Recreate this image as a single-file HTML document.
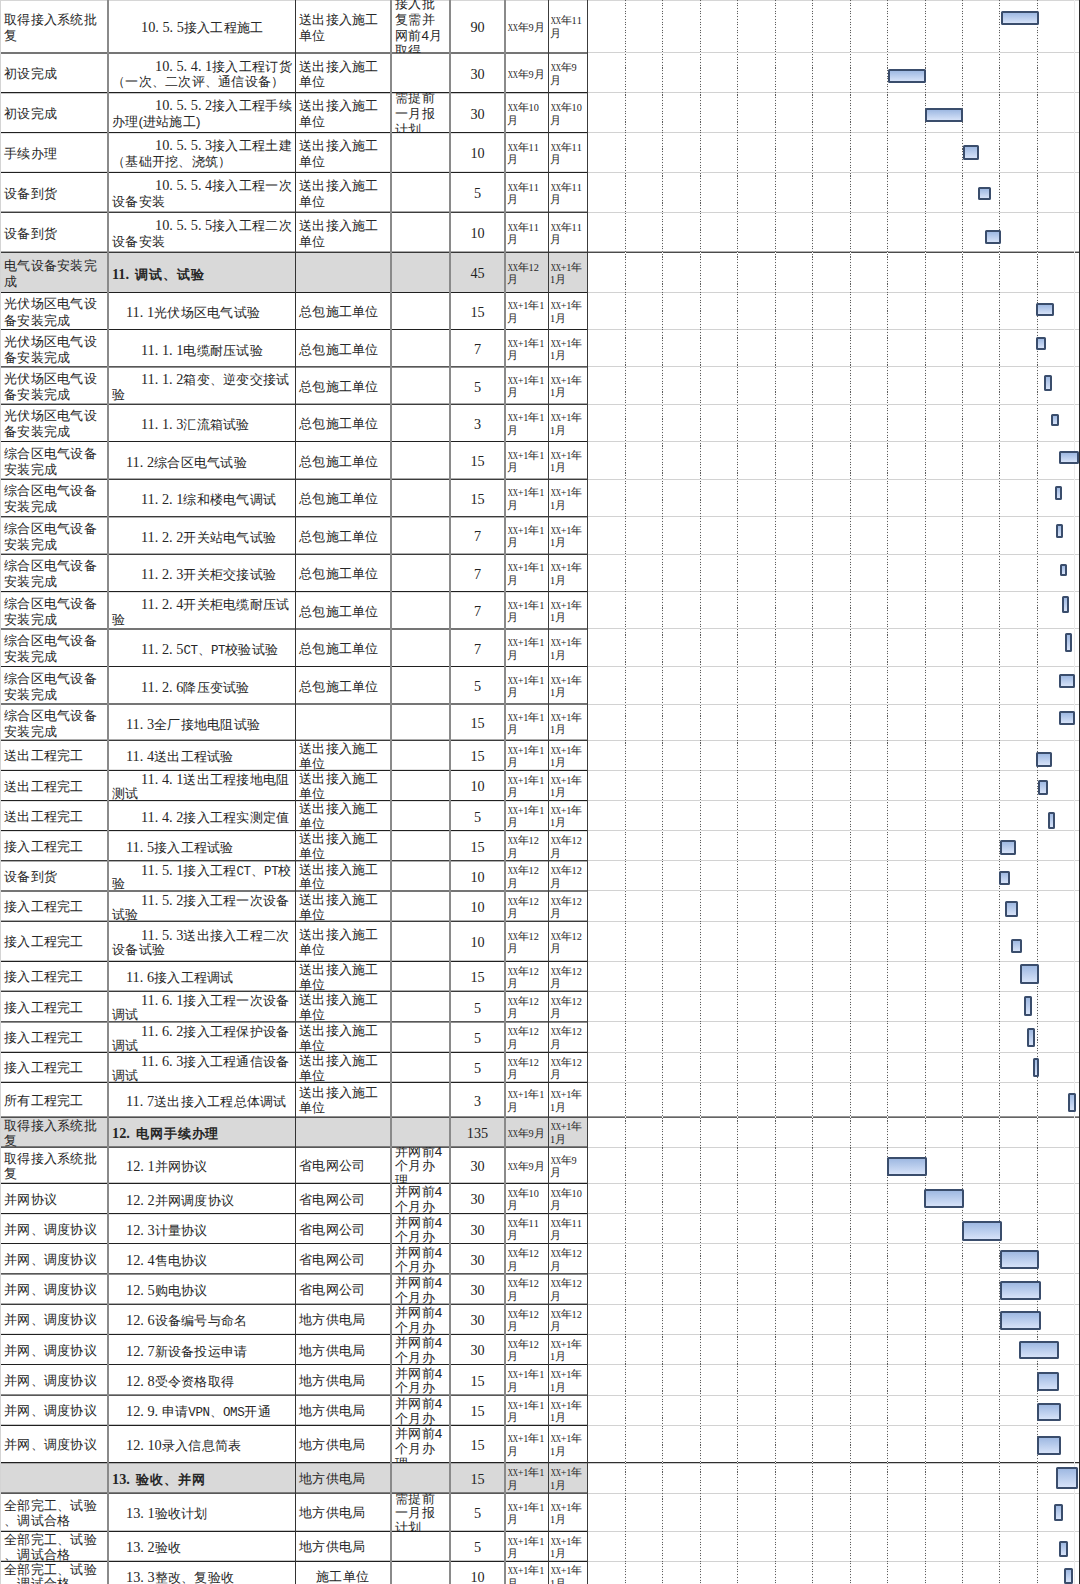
<!DOCTYPE html><html><head><meta charset="utf-8"><style>html,body{margin:0;padding:0;background:#fff;overflow:hidden}
html{width:1080px;height:1584px}
body{width:1080px;height:1584px;overflow:hidden;position:relative;font-family:"Liberation Sans",sans-serif;color:#262626}
.a{position:absolute}
.c{position:absolute;overflow:hidden}
.t{position:absolute;left:0;white-space:pre;font-size:13.4px;letter-spacing:-0.13px}
.sf{font-family:"Liberation Sans",sans-serif}
.as{font-family:"Liberation Serif",serif;font-size:14.3px;letter-spacing:0}
.lt{display:inline-block;width:7.15px;text-align:center;font-family:"Liberation Mono",monospace;font-size:12.5px}
.b{font-weight:bold;letter-spacing:0.5px}
.n{position:absolute;left:0;right:0;text-align:center;white-space:pre;font-family:"Liberation Serif",serif;font-size:14.2px;color:#222}
.d{position:absolute;left:1px;white-space:pre;font-size:10.7px;line-height:12.5px}
.h{display:inline-block;width:5.35px;text-align:center;font-style:normal;font-family:"Liberation Serif",serif;font-size:10.3px}
.hx{transform:scaleX(.7)}
.g{position:absolute;top:0;height:1584px;width:1px;background:repeating-linear-gradient(to bottom,#5e5e5e 0,#5e5e5e 1px,#f4f4f4 1px,#f4f4f4 2.7px)}
.k{display:inline-block;width:13.27px}
.kb{display:inline-block;width:13.9px}
.b .as{padding-right:2.5px}
.kd{display:inline-block;width:10.7px}
.bar{position:absolute;box-sizing:border-box;border:2.4px solid #3a4d6c;border-radius:1.5px;background:linear-gradient(to bottom,#9fb9e2,#d6e2f8)}
</style></head><body><div class="a" style="left:1px;width:587px;top:1462.7px;height:30.4px;background:#d9d9d9"></div><div class="a" style="left:1px;width:587px;top:252.2px;height:40.3px;background:#d9d9d9"></div><div class="a" style="left:1px;width:587px;top:1117.1px;height:30px;background:#d9d9d9"></div><div class="a" style="left:0;width:1080px;top:0;height:1px;background:#d6d6d6"></div><div class="a" style="left:1px;width:587px;top:52px;height:1px;background:#202020;opacity:0.62"></div><div class="a" style="left:1px;width:587px;top:53px;height:1px;background:#202020;opacity:0.62"></div><div class="a" style="left:588px;width:491px;top:52px;height:1px;background:#d2d2d2"></div><div class="a" style="left:1px;width:587px;top:92px;height:1px;background:#202020;opacity:1.00"></div><div class="a" style="left:1px;width:587px;top:93px;height:1px;background:#202020;opacity:0.25"></div><div class="a" style="left:588px;width:491px;top:92px;height:1px;background:#d2d2d2"></div><div class="a" style="left:1px;width:587px;top:132px;height:1px;background:#202020;opacity:1.00"></div><div class="a" style="left:1px;width:587px;top:133px;height:1px;background:#202020;opacity:0.12"></div><div class="a" style="left:588px;width:491px;top:132px;height:1px;background:#d2d2d2"></div><div class="a" style="left:1px;width:587px;top:171px;height:1px;background:#202020;opacity:0.12"></div><div class="a" style="left:1px;width:587px;top:172px;height:1px;background:#202020;opacity:1.00"></div><div class="a" style="left:588px;width:491px;top:172px;height:1px;background:#d2d2d2"></div><div class="a" style="left:1px;width:587px;top:211px;height:1px;background:#202020;opacity:0.38"></div><div class="a" style="left:1px;width:587px;top:212px;height:1px;background:#202020;opacity:0.87"></div><div class="a" style="left:588px;width:491px;top:212px;height:1px;background:#d2d2d2"></div><div class="a" style="left:1px;width:587px;top:251px;height:1px;background:#202020;opacity:0.38"></div><div class="a" style="left:1px;width:587px;top:252px;height:1px;background:#202020;opacity:0.87"></div><div class="a" style="left:588px;width:492px;top:251px;height:1px;background:#303030;opacity:0.38"></div><div class="a" style="left:588px;width:492px;top:252px;height:1px;background:#303030;opacity:0.87"></div><div class="a" style="left:1px;width:587px;top:292px;height:1px;background:#202020;opacity:1.00"></div><div class="a" style="left:588px;width:491px;top:292px;height:1px;background:#d2d2d2"></div><div class="a" style="left:1px;width:587px;top:329px;height:1px;background:#202020;opacity:1.00"></div><div class="a" style="left:588px;width:491px;top:329px;height:1px;background:#d2d2d2"></div><div class="a" style="left:1px;width:587px;top:366px;height:1px;background:#202020;opacity:0.75"></div><div class="a" style="left:1px;width:587px;top:367px;height:1px;background:#202020;opacity:0.50"></div><div class="a" style="left:588px;width:491px;top:366px;height:1px;background:#d2d2d2"></div><div class="a" style="left:1px;width:587px;top:403px;height:1px;background:#202020;opacity:0.38"></div><div class="a" style="left:1px;width:587px;top:404px;height:1px;background:#202020;opacity:0.87"></div><div class="a" style="left:588px;width:491px;top:404px;height:1px;background:#d2d2d2"></div><div class="a" style="left:1px;width:587px;top:441px;height:1px;background:#202020;opacity:1.00"></div><div class="a" style="left:588px;width:491px;top:441px;height:1px;background:#d2d2d2"></div><div class="a" style="left:1px;width:587px;top:478px;height:1px;background:#202020;opacity:0.38"></div><div class="a" style="left:1px;width:587px;top:479px;height:1px;background:#202020;opacity:0.87"></div><div class="a" style="left:588px;width:491px;top:479px;height:1px;background:#d2d2d2"></div><div class="a" style="left:1px;width:587px;top:516px;height:1px;background:#202020;opacity:0.88"></div><div class="a" style="left:1px;width:587px;top:517px;height:1px;background:#202020;opacity:0.37"></div><div class="a" style="left:588px;width:491px;top:516px;height:1px;background:#d2d2d2"></div><div class="a" style="left:1px;width:587px;top:553px;height:1px;background:#202020;opacity:0.37"></div><div class="a" style="left:1px;width:587px;top:554px;height:1px;background:#202020;opacity:0.88"></div><div class="a" style="left:588px;width:491px;top:554px;height:1px;background:#d2d2d2"></div><div class="a" style="left:1px;width:587px;top:591px;height:1px;background:#202020;opacity:1.00"></div><div class="a" style="left:1px;width:587px;top:592px;height:1px;background:#202020;opacity:0.13"></div><div class="a" style="left:588px;width:491px;top:591px;height:1px;background:#d2d2d2"></div><div class="a" style="left:1px;width:587px;top:628px;height:1px;background:#202020;opacity:0.62"></div><div class="a" style="left:1px;width:587px;top:629px;height:1px;background:#202020;opacity:0.62"></div><div class="a" style="left:588px;width:491px;top:628px;height:1px;background:#d2d2d2"></div><div class="a" style="left:1px;width:587px;top:666px;height:1px;background:#202020;opacity:1.00"></div><div class="a" style="left:588px;width:491px;top:666px;height:1px;background:#d2d2d2"></div><div class="a" style="left:1px;width:587px;top:703px;height:1px;background:#202020;opacity:0.62"></div><div class="a" style="left:1px;width:587px;top:704px;height:1px;background:#202020;opacity:0.62"></div><div class="a" style="left:588px;width:491px;top:704px;height:1px;background:#d2d2d2"></div><div class="a" style="left:1px;width:587px;top:739px;height:1px;background:#202020;opacity:0.37"></div><div class="a" style="left:1px;width:587px;top:740px;height:1px;background:#202020;opacity:0.88"></div><div class="a" style="left:588px;width:491px;top:740px;height:1px;background:#d2d2d2"></div><div class="a" style="left:1px;width:587px;top:769px;height:1px;background:#202020;opacity:0.13"></div><div class="a" style="left:1px;width:587px;top:770px;height:1px;background:#202020;opacity:1.00"></div><div class="a" style="left:588px;width:491px;top:770px;height:1px;background:#d2d2d2"></div><div class="a" style="left:1px;width:587px;top:800px;height:1px;background:#202020;opacity:1.00"></div><div class="a" style="left:1px;width:587px;top:801px;height:1px;background:#202020;opacity:0.13"></div><div class="a" style="left:588px;width:491px;top:800px;height:1px;background:#d2d2d2"></div><div class="a" style="left:1px;width:587px;top:830px;height:1px;background:#202020;opacity:1.00"></div><div class="a" style="left:1px;width:587px;top:831px;height:1px;background:#202020;opacity:0.13"></div><div class="a" style="left:588px;width:491px;top:830px;height:1px;background:#d2d2d2"></div><div class="a" style="left:1px;width:587px;top:860px;height:1px;background:#202020;opacity:0.88"></div><div class="a" style="left:1px;width:587px;top:861px;height:1px;background:#202020;opacity:0.37"></div><div class="a" style="left:588px;width:491px;top:860px;height:1px;background:#d2d2d2"></div><div class="a" style="left:1px;width:587px;top:890px;height:1px;background:#202020;opacity:0.62"></div><div class="a" style="left:1px;width:587px;top:891px;height:1px;background:#202020;opacity:0.62"></div><div class="a" style="left:588px;width:491px;top:890px;height:1px;background:#d2d2d2"></div><div class="a" style="left:1px;width:587px;top:920px;height:1px;background:#202020;opacity:0.37"></div><div class="a" style="left:1px;width:587px;top:921px;height:1px;background:#202020;opacity:0.88"></div><div class="a" style="left:588px;width:491px;top:921px;height:1px;background:#d2d2d2"></div><div class="a" style="left:1px;width:587px;top:960px;height:1px;background:#202020;opacity:0.25"></div><div class="a" style="left:1px;width:587px;top:961px;height:1px;background:#202020;opacity:1.00"></div><div class="a" style="left:588px;width:491px;top:961px;height:1px;background:#d2d2d2"></div><div class="a" style="left:1px;width:587px;top:990px;height:1px;background:#202020;opacity:0.37"></div><div class="a" style="left:1px;width:587px;top:991px;height:1px;background:#202020;opacity:0.88"></div><div class="a" style="left:588px;width:491px;top:991px;height:1px;background:#d2d2d2"></div><div class="a" style="left:1px;width:587px;top:1021px;height:1px;background:#202020;opacity:0.75"></div><div class="a" style="left:1px;width:587px;top:1022px;height:1px;background:#202020;opacity:0.50"></div><div class="a" style="left:588px;width:491px;top:1021px;height:1px;background:#d2d2d2"></div><div class="a" style="left:1px;width:587px;top:1051px;height:1px;background:#202020;opacity:0.25"></div><div class="a" style="left:1px;width:587px;top:1052px;height:1px;background:#202020;opacity:1.00"></div><div class="a" style="left:588px;width:491px;top:1052px;height:1px;background:#d2d2d2"></div><div class="a" style="left:1px;width:587px;top:1081px;height:1px;background:#202020;opacity:0.25"></div><div class="a" style="left:1px;width:587px;top:1082px;height:1px;background:#202020;opacity:1.00"></div><div class="a" style="left:588px;width:491px;top:1082px;height:1px;background:#d2d2d2"></div><div class="a" style="left:1px;width:587px;top:1116px;height:1px;background:#202020;opacity:0.50"></div><div class="a" style="left:1px;width:587px;top:1117px;height:1px;background:#202020;opacity:0.75"></div><div class="a" style="left:588px;width:492px;top:1116px;height:1px;background:#303030;opacity:0.50"></div><div class="a" style="left:588px;width:492px;top:1117px;height:1px;background:#303030;opacity:0.75"></div><div class="a" style="left:1px;width:587px;top:1146px;height:1px;background:#202020;opacity:0.50"></div><div class="a" style="left:1px;width:587px;top:1147px;height:1px;background:#202020;opacity:0.75"></div><div class="a" style="left:588px;width:491px;top:1147px;height:1px;background:#d2d2d2"></div><div class="a" style="left:1px;width:587px;top:1182px;height:1px;background:#202020;opacity:0.25"></div><div class="a" style="left:1px;width:587px;top:1183px;height:1px;background:#202020;opacity:1.00"></div><div class="a" style="left:588px;width:491px;top:1183px;height:1px;background:#d2d2d2"></div><div class="a" style="left:1px;width:587px;top:1213px;height:1px;background:#202020;opacity:1.00"></div><div class="a" style="left:1px;width:587px;top:1214px;height:1px;background:#202020;opacity:0.12"></div><div class="a" style="left:588px;width:491px;top:1213px;height:1px;background:#d2d2d2"></div><div class="a" style="left:1px;width:587px;top:1243px;height:1px;background:#202020;opacity:1.00"></div><div class="a" style="left:588px;width:491px;top:1243px;height:1px;background:#d2d2d2"></div><div class="a" style="left:1px;width:587px;top:1273px;height:1px;background:#202020;opacity:0.75"></div><div class="a" style="left:1px;width:587px;top:1274px;height:1px;background:#202020;opacity:0.50"></div><div class="a" style="left:588px;width:491px;top:1273px;height:1px;background:#d2d2d2"></div><div class="a" style="left:1px;width:587px;top:1303px;height:1px;background:#202020;opacity:0.37"></div><div class="a" style="left:1px;width:587px;top:1304px;height:1px;background:#202020;opacity:0.88"></div><div class="a" style="left:588px;width:491px;top:1304px;height:1px;background:#d2d2d2"></div><div class="a" style="left:1px;width:587px;top:1333px;height:1px;background:#202020;opacity:0.12"></div><div class="a" style="left:1px;width:587px;top:1334px;height:1px;background:#202020;opacity:1.00"></div><div class="a" style="left:588px;width:491px;top:1334px;height:1px;background:#d2d2d2"></div><div class="a" style="left:1px;width:587px;top:1364px;height:1px;background:#202020;opacity:1.00"></div><div class="a" style="left:588px;width:491px;top:1364px;height:1px;background:#d2d2d2"></div><div class="a" style="left:1px;width:587px;top:1394px;height:1px;background:#202020;opacity:0.50"></div><div class="a" style="left:1px;width:587px;top:1395px;height:1px;background:#202020;opacity:0.75"></div><div class="a" style="left:588px;width:491px;top:1395px;height:1px;background:#d2d2d2"></div><div class="a" style="left:1px;width:587px;top:1424px;height:1px;background:#202020;opacity:0.25"></div><div class="a" style="left:1px;width:587px;top:1425px;height:1px;background:#202020;opacity:1.00"></div><div class="a" style="left:588px;width:491px;top:1425px;height:1px;background:#d2d2d2"></div><div class="a" style="left:1px;width:587px;top:1462px;height:1px;background:#202020;opacity:1.00"></div><div class="a" style="left:1px;width:587px;top:1463px;height:1px;background:#202020;opacity:0.25"></div><div class="a" style="left:588px;width:492px;top:1462px;height:1px;background:#303030;opacity:1.00"></div><div class="a" style="left:588px;width:492px;top:1463px;height:1px;background:#303030;opacity:0.25"></div><div class="a" style="left:1px;width:587px;top:1492px;height:1px;background:#202020;opacity:0.50"></div><div class="a" style="left:1px;width:587px;top:1493px;height:1px;background:#202020;opacity:0.75"></div><div class="a" style="left:588px;width:491px;top:1493px;height:1px;background:#d2d2d2"></div><div class="a" style="left:1px;width:587px;top:1530px;height:1px;background:#202020;opacity:0.25"></div><div class="a" style="left:1px;width:587px;top:1531px;height:1px;background:#202020;opacity:1.00"></div><div class="a" style="left:588px;width:491px;top:1531px;height:1px;background:#d2d2d2"></div><div class="a" style="left:1px;width:587px;top:1560px;height:1px;background:#202020;opacity:0.25"></div><div class="a" style="left:1px;width:587px;top:1561px;height:1px;background:#202020;opacity:1.00"></div><div class="a" style="left:588px;width:491px;top:1561px;height:1px;background:#d2d2d2"></div><div class="a" style="left:0;top:0;width:1px;height:1584px;background:#d4d4d4"></div><div class="a" style="left:107px;top:0;width:2px;height:1584px;background:#8a8a8a"></div><div class="a" style="left:295px;top:0;width:1px;height:1584px;background:#333"></div><div class="a" style="left:390px;top:0;width:2px;height:1584px;background:#8a8a8a"></div><div class="a" style="left:449px;top:0;width:2px;height:1584px;background:#8a8a8a"></div><div class="a" style="left:504px;top:0;width:2px;height:1584px;background:#8a8a8a"></div><div class="a" style="left:548px;top:0;width:1px;height:1584px;background:#3c3c3c"></div><div class="a" style="left:587px;top:0;width:1px;height:1584px;background:#3c3c3c"></div><div class="g" style="left:625px"></div><div class="g" style="left:662px"></div><div class="g" style="left:700px"></div><div class="g" style="left:737px"></div><div class="g" style="left:775px"></div><div class="g" style="left:812px"></div><div class="g" style="left:850px"></div><div class="g" style="left:887px"></div><div class="g" style="left:925px"></div><div class="g" style="left:962px"></div><div class="g" style="left:999px"></div><div class="g" style="left:1037px"></div><div class="a" style="left:1074px;top:0;width:1px;height:1584px;background:#ececec"></div><div class="c" style="left:1px;top:0px;width:106px;height:53px"><div class="t" style="left:3px;top:11.7px;line-height:15.8px"><span class="k">取</span><span class="k">得</span><span class="k">接</span><span class="k">入</span><span class="k">系</span><span class="k">统</span><span class="k">批</span></div><div class="t" style="left:3px;top:27.5px;line-height:15.8px"><span class="k">复</span></div></div><div class="c" style="left:109px;top:0px;width:186px;height:53px"><div class="t sf" style="left:32px;top:19.6px;line-height:15.8px"><span class="as">10. 5. 5</span><span class="k">接</span><span class="k">入</span><span class="k">工</span><span class="k">程</span><span class="k">施</span><span class="k">工</span></div></div><div class="c" style="left:296px;top:0px;width:94px;height:53px"><div class="t" style="left:3px;top:11.7px;line-height:15.8px"><span class="k">送</span><span class="k">出</span><span class="k">接</span><span class="k">入</span><span class="k">施</span><span class="k">工</span></div><div class="t" style="left:3px;top:27.5px;line-height:15.8px"><span class="k">单</span><span class="k">位</span></div></div><div class="c" style="left:392px;top:0px;width:57px;height:53px"><div class="t" style="left:3px;top:-4.1px;line-height:15.8px"><span class="k">接</span><span class="k">入</span><span class="k">批</span></div><div class="t" style="left:3px;top:11.7px;line-height:15.8px"><span class="k">复</span><span class="k">需</span><span class="k">并</span></div><div class="t" style="left:3px;top:27.5px;line-height:15.8px"><span class="k">网</span><span class="k">前</span>4<span class="k">月</span></div><div class="t" style="left:3px;top:43.3px;line-height:15.8px"><span class="k">取</span><span class="k">得</span></div></div><div class="c" style="left:451px;top:0px;width:53px;height:53px"><div class="n" style="top:19px;line-height:16px">90</div></div><div class="c" style="left:506px;top:0px;width:42px;height:53px"><div class="d" style="left:1px;top:20.65px;line-height:12.5px"><i class="h hx">X</i><i class="h hx">X</i><span class="kd">年</span><i class="h">9</i><span class="kd">月</span></div></div><div class="c" style="left:549px;top:0px;width:38px;height:53px"><div class="d" style="left:1px;top:14.4px;line-height:12.5px"><i class="h hx">X</i><i class="h hx">X</i><span class="kd">年</span><i class="h">1</i><i class="h">1</i></div><div class="d" style="left:1px;top:26.9px;line-height:12.5px"><span class="kd">月</span></div></div><div class="c" style="left:1px;top:53px;width:106px;height:39.7px"><div class="t" style="left:3px;top:13.45px;line-height:15.8px"><span class="k">初</span><span class="k">设</span><span class="k">完</span><span class="k">成</span></div></div><div class="c" style="left:109px;top:53px;width:186px;height:39.7px"><div class="t sf" style="left:46px;top:5.55px;line-height:15.8px"><span class="as">10. 5. 4. 1</span><span class="k">接</span><span class="k">入</span><span class="k">工</span><span class="k">程</span><span class="k">订</span><span class="k">货</span></div><div class="t sf" style="left:3px;top:21.35px;line-height:15.8px"><span class="k">（</span><span class="k">一</span><span class="k">次</span><span class="k">、</span><span class="k">二</span><span class="k">次</span><span class="k">评</span><span class="k">、</span><span class="k">通</span><span class="k">信</span><span class="k">设</span><span class="k">备</span><span class="k">）</span></div></div><div class="c" style="left:296px;top:53px;width:94px;height:39.7px"><div class="t" style="left:3px;top:5.55px;line-height:15.8px"><span class="k">送</span><span class="k">出</span><span class="k">接</span><span class="k">入</span><span class="k">施</span><span class="k">工</span></div><div class="t" style="left:3px;top:21.35px;line-height:15.8px"><span class="k">单</span><span class="k">位</span></div></div><div class="c" style="left:451px;top:53px;width:53px;height:39.7px"><div class="n" style="top:12.85px;line-height:16px">30</div></div><div class="c" style="left:506px;top:53px;width:42px;height:39.7px"><div class="d" style="left:1px;top:14.5px;line-height:12.5px"><i class="h hx">X</i><i class="h hx">X</i><span class="kd">年</span><i class="h">9</i><span class="kd">月</span></div></div><div class="c" style="left:549px;top:53px;width:38px;height:39.7px"><div class="d" style="left:1px;top:8.25px;line-height:12.5px"><i class="h hx">X</i><i class="h hx">X</i><span class="kd">年</span><i class="h">9</i></div><div class="d" style="left:1px;top:20.75px;line-height:12.5px"><span class="kd">月</span></div></div><div class="c" style="left:1px;top:92.7px;width:106px;height:39.9px"><div class="t" style="left:3px;top:13.55px;line-height:15.8px"><span class="k">初</span><span class="k">设</span><span class="k">完</span><span class="k">成</span></div></div><div class="c" style="left:109px;top:92.7px;width:186px;height:39.9px"><div class="t sf" style="left:46px;top:5.65px;line-height:15.8px"><span class="as">10. 5. 5. 2</span><span class="k">接</span><span class="k">入</span><span class="k">工</span><span class="k">程</span><span class="k">手</span><span class="k">续</span></div><div class="t sf" style="left:3px;top:21.45px;line-height:15.8px"><span class="k">办</span><span class="k">理</span>(<span class="k">进</span><span class="k">站</span><span class="k">施</span><span class="k">工</span>)</div></div><div class="c" style="left:296px;top:92.7px;width:94px;height:39.9px"><div class="t" style="left:3px;top:5.65px;line-height:15.8px"><span class="k">送</span><span class="k">出</span><span class="k">接</span><span class="k">入</span><span class="k">施</span><span class="k">工</span></div><div class="t" style="left:3px;top:21.45px;line-height:15.8px"><span class="k">单</span><span class="k">位</span></div></div><div class="c" style="left:392px;top:92.7px;width:57px;height:39.9px"><div class="t" style="left:3px;top:-2.25px;line-height:15.8px"><span class="k">需</span><span class="k">提</span><span class="k">前</span></div><div class="t" style="left:3px;top:13.55px;line-height:15.8px"><span class="k">一</span><span class="k">月</span><span class="k">报</span></div><div class="t" style="left:3px;top:29.35px;line-height:15.8px"><span class="k">计</span><span class="k">划</span></div></div><div class="c" style="left:451px;top:92.7px;width:53px;height:39.9px"><div class="n" style="top:12.95px;line-height:16px">30</div></div><div class="c" style="left:506px;top:92.7px;width:42px;height:39.9px"><div class="d" style="left:1px;top:8.35px;line-height:12.5px"><i class="h hx">X</i><i class="h hx">X</i><span class="kd">年</span><i class="h">1</i><i class="h">0</i></div><div class="d" style="left:1px;top:20.85px;line-height:12.5px"><span class="kd">月</span></div></div><div class="c" style="left:549px;top:92.7px;width:38px;height:39.9px"><div class="d" style="left:1px;top:8.35px;line-height:12.5px"><i class="h hx">X</i><i class="h hx">X</i><span class="kd">年</span><i class="h">1</i><i class="h">0</i></div><div class="d" style="left:1px;top:20.85px;line-height:12.5px"><span class="kd">月</span></div></div><div class="c" style="left:1px;top:132.6px;width:106px;height:39.8px"><div class="t" style="left:3px;top:13.5px;line-height:15.8px"><span class="k">手</span><span class="k">续</span><span class="k">办</span><span class="k">理</span></div></div><div class="c" style="left:109px;top:132.6px;width:186px;height:39.8px"><div class="t sf" style="left:46px;top:5.6px;line-height:15.8px"><span class="as">10. 5. 5. 3</span><span class="k">接</span><span class="k">入</span><span class="k">工</span><span class="k">程</span><span class="k">土</span><span class="k">建</span></div><div class="t sf" style="left:3px;top:21.4px;line-height:15.8px"><span class="k">（</span><span class="k">基</span><span class="k">础</span><span class="k">开</span><span class="k">挖</span><span class="k">、</span><span class="k">浇</span><span class="k">筑</span><span class="k">）</span></div></div><div class="c" style="left:296px;top:132.6px;width:94px;height:39.8px"><div class="t" style="left:3px;top:5.6px;line-height:15.8px"><span class="k">送</span><span class="k">出</span><span class="k">接</span><span class="k">入</span><span class="k">施</span><span class="k">工</span></div><div class="t" style="left:3px;top:21.4px;line-height:15.8px"><span class="k">单</span><span class="k">位</span></div></div><div class="c" style="left:451px;top:132.6px;width:53px;height:39.8px"><div class="n" style="top:12.9px;line-height:16px">10</div></div><div class="c" style="left:506px;top:132.6px;width:42px;height:39.8px"><div class="d" style="left:1px;top:8.3px;line-height:12.5px"><i class="h hx">X</i><i class="h hx">X</i><span class="kd">年</span><i class="h">1</i><i class="h">1</i></div><div class="d" style="left:1px;top:20.8px;line-height:12.5px"><span class="kd">月</span></div></div><div class="c" style="left:549px;top:132.6px;width:38px;height:39.8px"><div class="d" style="left:1px;top:8.3px;line-height:12.5px"><i class="h hx">X</i><i class="h hx">X</i><span class="kd">年</span><i class="h">1</i><i class="h">1</i></div><div class="d" style="left:1px;top:20.8px;line-height:12.5px"><span class="kd">月</span></div></div><div class="c" style="left:1px;top:172.4px;width:106px;height:39.8px"><div class="t" style="left:3px;top:13.5px;line-height:15.8px"><span class="k">设</span><span class="k">备</span><span class="k">到</span><span class="k">货</span></div></div><div class="c" style="left:109px;top:172.4px;width:186px;height:39.8px"><div class="t sf" style="left:46px;top:5.6px;line-height:15.8px"><span class="as">10. 5. 5. 4</span><span class="k">接</span><span class="k">入</span><span class="k">工</span><span class="k">程</span><span class="k">一</span><span class="k">次</span></div><div class="t sf" style="left:3px;top:21.4px;line-height:15.8px"><span class="k">设</span><span class="k">备</span><span class="k">安</span><span class="k">装</span></div></div><div class="c" style="left:296px;top:172.4px;width:94px;height:39.8px"><div class="t" style="left:3px;top:5.6px;line-height:15.8px"><span class="k">送</span><span class="k">出</span><span class="k">接</span><span class="k">入</span><span class="k">施</span><span class="k">工</span></div><div class="t" style="left:3px;top:21.4px;line-height:15.8px"><span class="k">单</span><span class="k">位</span></div></div><div class="c" style="left:451px;top:172.4px;width:53px;height:39.8px"><div class="n" style="top:12.9px;line-height:16px">5</div></div><div class="c" style="left:506px;top:172.4px;width:42px;height:39.8px"><div class="d" style="left:1px;top:8.3px;line-height:12.5px"><i class="h hx">X</i><i class="h hx">X</i><span class="kd">年</span><i class="h">1</i><i class="h">1</i></div><div class="d" style="left:1px;top:20.8px;line-height:12.5px"><span class="kd">月</span></div></div><div class="c" style="left:549px;top:172.4px;width:38px;height:39.8px"><div class="d" style="left:1px;top:8.3px;line-height:12.5px"><i class="h hx">X</i><i class="h hx">X</i><span class="kd">年</span><i class="h">1</i><i class="h">1</i></div><div class="d" style="left:1px;top:20.8px;line-height:12.5px"><span class="kd">月</span></div></div><div class="c" style="left:1px;top:212.2px;width:106px;height:40px"><div class="t" style="left:3px;top:13.6px;line-height:15.8px"><span class="k">设</span><span class="k">备</span><span class="k">到</span><span class="k">货</span></div></div><div class="c" style="left:109px;top:212.2px;width:186px;height:40px"><div class="t sf" style="left:46px;top:5.7px;line-height:15.8px"><span class="as">10. 5. 5. 5</span><span class="k">接</span><span class="k">入</span><span class="k">工</span><span class="k">程</span><span class="k">二</span><span class="k">次</span></div><div class="t sf" style="left:3px;top:21.5px;line-height:15.8px"><span class="k">设</span><span class="k">备</span><span class="k">安</span><span class="k">装</span></div></div><div class="c" style="left:296px;top:212.2px;width:94px;height:40px"><div class="t" style="left:3px;top:5.7px;line-height:15.8px"><span class="k">送</span><span class="k">出</span><span class="k">接</span><span class="k">入</span><span class="k">施</span><span class="k">工</span></div><div class="t" style="left:3px;top:21.5px;line-height:15.8px"><span class="k">单</span><span class="k">位</span></div></div><div class="c" style="left:451px;top:212.2px;width:53px;height:40px"><div class="n" style="top:13px;line-height:16px">10</div></div><div class="c" style="left:506px;top:212.2px;width:42px;height:40px"><div class="d" style="left:1px;top:8.4px;line-height:12.5px"><i class="h hx">X</i><i class="h hx">X</i><span class="kd">年</span><i class="h">1</i><i class="h">1</i></div><div class="d" style="left:1px;top:20.9px;line-height:12.5px"><span class="kd">月</span></div></div><div class="c" style="left:549px;top:212.2px;width:38px;height:40px"><div class="d" style="left:1px;top:8.4px;line-height:12.5px"><i class="h hx">X</i><i class="h hx">X</i><span class="kd">年</span><i class="h">1</i><i class="h">1</i></div><div class="d" style="left:1px;top:20.9px;line-height:12.5px"><span class="kd">月</span></div></div><div class="c" style="left:1px;top:252.2px;width:106px;height:40.3px"><div class="t" style="left:3px;top:5.55px;line-height:16.1px"><span class="k">电</span><span class="k">气</span><span class="k">设</span><span class="k">备</span><span class="k">安</span><span class="k">装</span><span class="k">完</span></div><div class="t" style="left:3px;top:21.65px;line-height:16.1px"><span class="k">成</span></div></div><div class="c" style="left:109px;top:252.2px;width:186px;height:40.3px"><div class="t sf b" style="left:3px;top:13.6px;line-height:16.1px"><span class="as">11. </span><span class="kb">调</span><span class="kb">试</span><span class="kb">、</span><span class="kb">试</span><span class="kb">验</span></div></div><div class="c" style="left:451px;top:252.2px;width:53px;height:40.3px"><div class="n" style="top:13.15px;line-height:16px">45</div></div><div class="c" style="left:506px;top:252.2px;width:42px;height:40.3px"><div class="d" style="left:1px;top:8.55px;line-height:12.5px"><i class="h hx">X</i><i class="h hx">X</i><span class="kd">年</span><i class="h">1</i><i class="h">2</i></div><div class="d" style="left:1px;top:21.05px;line-height:12.5px"><span class="kd">月</span></div></div><div class="c" style="left:549px;top:252.2px;width:38px;height:40.3px"><div class="d" style="left:1px;top:8.55px;line-height:12.5px"><i class="h hx">X</i><i class="h hx">X</i><i class="h">+</i><i class="h">1</i><span class="kd">年</span></div><div class="d" style="left:1px;top:21.05px;line-height:12.5px"><i class="h">1</i><span class="kd">月</span></div></div><div class="c" style="left:1px;top:292.5px;width:106px;height:37px"><div class="t" style="left:3px;top:3.9px;line-height:16.1px"><span class="k">光</span><span class="k">伏</span><span class="k">场</span><span class="k">区</span><span class="k">电</span><span class="k">气</span><span class="k">设</span></div><div class="t" style="left:3px;top:20px;line-height:16.1px"><span class="k">备</span><span class="k">安</span><span class="k">装</span><span class="k">完</span><span class="k">成</span></div></div><div class="c" style="left:109px;top:292.5px;width:186px;height:37px"><div class="t sf" style="left:17px;top:11.95px;line-height:16.1px"><span class="as">11. 1</span><span class="k">光</span><span class="k">伏</span><span class="k">场</span><span class="k">区</span><span class="k">电</span><span class="k">气</span><span class="k">试</span><span class="k">验</span></div></div><div class="c" style="left:296px;top:292.5px;width:94px;height:37px"><div class="t" style="left:3px;top:11.95px;line-height:16.1px"><span class="k">总</span><span class="k">包</span><span class="k">施</span><span class="k">工</span><span class="k">单</span><span class="k">位</span></div></div><div class="c" style="left:451px;top:292.5px;width:53px;height:37px"><div class="n" style="top:11.5px;line-height:16px">15</div></div><div class="c" style="left:506px;top:292.5px;width:42px;height:37px"><div class="d" style="left:1px;top:6.9px;line-height:12.5px"><i class="h hx">X</i><i class="h hx">X</i><i class="h">+</i><i class="h">1</i><span class="kd">年</span><i class="h">1</i></div><div class="d" style="left:1px;top:19.4px;line-height:12.5px"><span class="kd">月</span></div></div><div class="c" style="left:549px;top:292.5px;width:38px;height:37px"><div class="d" style="left:1px;top:6.9px;line-height:12.5px"><i class="h hx">X</i><i class="h hx">X</i><i class="h">+</i><i class="h">1</i><span class="kd">年</span></div><div class="d" style="left:1px;top:19.4px;line-height:12.5px"><i class="h">1</i><span class="kd">月</span></div></div><div class="c" style="left:1px;top:329.5px;width:106px;height:37.4px"><div class="t" style="left:3px;top:4.1px;line-height:16.1px"><span class="k">光</span><span class="k">伏</span><span class="k">场</span><span class="k">区</span><span class="k">电</span><span class="k">气</span><span class="k">设</span></div><div class="t" style="left:3px;top:20.2px;line-height:16.1px"><span class="k">备</span><span class="k">安</span><span class="k">装</span><span class="k">完</span><span class="k">成</span></div></div><div class="c" style="left:109px;top:329.5px;width:186px;height:37.4px"><div class="t sf" style="left:32px;top:12.15px;line-height:16.1px"><span class="as">11. 1. 1</span><span class="k">电</span><span class="k">缆</span><span class="k">耐</span><span class="k">压</span><span class="k">试</span><span class="k">验</span></div></div><div class="c" style="left:296px;top:329.5px;width:94px;height:37.4px"><div class="t" style="left:3px;top:12.15px;line-height:16.1px"><span class="k">总</span><span class="k">包</span><span class="k">施</span><span class="k">工</span><span class="k">单</span><span class="k">位</span></div></div><div class="c" style="left:451px;top:329.5px;width:53px;height:37.4px"><div class="n" style="top:11.7px;line-height:16px">7</div></div><div class="c" style="left:506px;top:329.5px;width:42px;height:37.4px"><div class="d" style="left:1px;top:7.1px;line-height:12.5px"><i class="h hx">X</i><i class="h hx">X</i><i class="h">+</i><i class="h">1</i><span class="kd">年</span><i class="h">1</i></div><div class="d" style="left:1px;top:19.6px;line-height:12.5px"><span class="kd">月</span></div></div><div class="c" style="left:549px;top:329.5px;width:38px;height:37.4px"><div class="d" style="left:1px;top:7.1px;line-height:12.5px"><i class="h hx">X</i><i class="h hx">X</i><i class="h">+</i><i class="h">1</i><span class="kd">年</span></div><div class="d" style="left:1px;top:19.6px;line-height:12.5px"><i class="h">1</i><span class="kd">月</span></div></div><div class="c" style="left:1px;top:366.9px;width:106px;height:37.3px"><div class="t" style="left:3px;top:4.05px;line-height:16.1px"><span class="k">光</span><span class="k">伏</span><span class="k">场</span><span class="k">区</span><span class="k">电</span><span class="k">气</span><span class="k">设</span></div><div class="t" style="left:3px;top:20.15px;line-height:16.1px"><span class="k">备</span><span class="k">安</span><span class="k">装</span><span class="k">完</span><span class="k">成</span></div></div><div class="c" style="left:109px;top:366.9px;width:186px;height:37.3px"><div class="t sf" style="left:32px;top:4.05px;line-height:16.1px"><span class="as">11. 1. 2</span><span class="k">箱</span><span class="k">变</span><span class="k">、</span><span class="k">逆</span><span class="k">变</span><span class="k">交</span><span class="k">接</span><span class="k">试</span></div><div class="t sf" style="left:3px;top:20.15px;line-height:16.1px"><span class="k">验</span></div></div><div class="c" style="left:296px;top:366.9px;width:94px;height:37.3px"><div class="t" style="left:3px;top:12.1px;line-height:16.1px"><span class="k">总</span><span class="k">包</span><span class="k">施</span><span class="k">工</span><span class="k">单</span><span class="k">位</span></div></div><div class="c" style="left:451px;top:366.9px;width:53px;height:37.3px"><div class="n" style="top:11.65px;line-height:16px">5</div></div><div class="c" style="left:506px;top:366.9px;width:42px;height:37.3px"><div class="d" style="left:1px;top:7.05px;line-height:12.5px"><i class="h hx">X</i><i class="h hx">X</i><i class="h">+</i><i class="h">1</i><span class="kd">年</span><i class="h">1</i></div><div class="d" style="left:1px;top:19.55px;line-height:12.5px"><span class="kd">月</span></div></div><div class="c" style="left:549px;top:366.9px;width:38px;height:37.3px"><div class="d" style="left:1px;top:7.05px;line-height:12.5px"><i class="h hx">X</i><i class="h hx">X</i><i class="h">+</i><i class="h">1</i><span class="kd">年</span></div><div class="d" style="left:1px;top:19.55px;line-height:12.5px"><i class="h">1</i><span class="kd">月</span></div></div><div class="c" style="left:1px;top:404.2px;width:106px;height:37.3px"><div class="t" style="left:3px;top:4.05px;line-height:16.1px"><span class="k">光</span><span class="k">伏</span><span class="k">场</span><span class="k">区</span><span class="k">电</span><span class="k">气</span><span class="k">设</span></div><div class="t" style="left:3px;top:20.15px;line-height:16.1px"><span class="k">备</span><span class="k">安</span><span class="k">装</span><span class="k">完</span><span class="k">成</span></div></div><div class="c" style="left:109px;top:404.2px;width:186px;height:37.3px"><div class="t sf" style="left:32px;top:12.1px;line-height:16.1px"><span class="as">11. 1. 3</span><span class="k">汇</span><span class="k">流</span><span class="k">箱</span><span class="k">试</span><span class="k">验</span></div></div><div class="c" style="left:296px;top:404.2px;width:94px;height:37.3px"><div class="t" style="left:3px;top:12.1px;line-height:16.1px"><span class="k">总</span><span class="k">包</span><span class="k">施</span><span class="k">工</span><span class="k">单</span><span class="k">位</span></div></div><div class="c" style="left:451px;top:404.2px;width:53px;height:37.3px"><div class="n" style="top:11.65px;line-height:16px">3</div></div><div class="c" style="left:506px;top:404.2px;width:42px;height:37.3px"><div class="d" style="left:1px;top:7.05px;line-height:12.5px"><i class="h hx">X</i><i class="h hx">X</i><i class="h">+</i><i class="h">1</i><span class="kd">年</span><i class="h">1</i></div><div class="d" style="left:1px;top:19.55px;line-height:12.5px"><span class="kd">月</span></div></div><div class="c" style="left:549px;top:404.2px;width:38px;height:37.3px"><div class="d" style="left:1px;top:7.05px;line-height:12.5px"><i class="h hx">X</i><i class="h hx">X</i><i class="h">+</i><i class="h">1</i><span class="kd">年</span></div><div class="d" style="left:1px;top:19.55px;line-height:12.5px"><i class="h">1</i><span class="kd">月</span></div></div><div class="c" style="left:1px;top:441.5px;width:106px;height:37.7px"><div class="t" style="left:3px;top:4.25px;line-height:16.1px"><span class="k">综</span><span class="k">合</span><span class="k">区</span><span class="k">电</span><span class="k">气</span><span class="k">设</span><span class="k">备</span></div><div class="t" style="left:3px;top:20.35px;line-height:16.1px"><span class="k">安</span><span class="k">装</span><span class="k">完</span><span class="k">成</span></div></div><div class="c" style="left:109px;top:441.5px;width:186px;height:37.7px"><div class="t sf" style="left:17px;top:12.3px;line-height:16.1px"><span class="as">11. 2</span><span class="k">综</span><span class="k">合</span><span class="k">区</span><span class="k">电</span><span class="k">气</span><span class="k">试</span><span class="k">验</span></div></div><div class="c" style="left:296px;top:441.5px;width:94px;height:37.7px"><div class="t" style="left:3px;top:12.3px;line-height:16.1px"><span class="k">总</span><span class="k">包</span><span class="k">施</span><span class="k">工</span><span class="k">单</span><span class="k">位</span></div></div><div class="c" style="left:451px;top:441.5px;width:53px;height:37.7px"><div class="n" style="top:11.85px;line-height:16px">15</div></div><div class="c" style="left:506px;top:441.5px;width:42px;height:37.7px"><div class="d" style="left:1px;top:7.25px;line-height:12.5px"><i class="h hx">X</i><i class="h hx">X</i><i class="h">+</i><i class="h">1</i><span class="kd">年</span><i class="h">1</i></div><div class="d" style="left:1px;top:19.75px;line-height:12.5px"><span class="kd">月</span></div></div><div class="c" style="left:549px;top:441.5px;width:38px;height:37.7px"><div class="d" style="left:1px;top:7.25px;line-height:12.5px"><i class="h hx">X</i><i class="h hx">X</i><i class="h">+</i><i class="h">1</i><span class="kd">年</span></div><div class="d" style="left:1px;top:19.75px;line-height:12.5px"><i class="h">1</i><span class="kd">月</span></div></div><div class="c" style="left:1px;top:479.2px;width:106px;height:37.6px"><div class="t" style="left:3px;top:4.2px;line-height:16.1px"><span class="k">综</span><span class="k">合</span><span class="k">区</span><span class="k">电</span><span class="k">气</span><span class="k">设</span><span class="k">备</span></div><div class="t" style="left:3px;top:20.3px;line-height:16.1px"><span class="k">安</span><span class="k">装</span><span class="k">完</span><span class="k">成</span></div></div><div class="c" style="left:109px;top:479.2px;width:186px;height:37.6px"><div class="t sf" style="left:32px;top:12.25px;line-height:16.1px"><span class="as">11. 2. 1</span><span class="k">综</span><span class="k">和</span><span class="k">楼</span><span class="k">电</span><span class="k">气</span><span class="k">调</span><span class="k">试</span></div></div><div class="c" style="left:296px;top:479.2px;width:94px;height:37.6px"><div class="t" style="left:3px;top:12.25px;line-height:16.1px"><span class="k">总</span><span class="k">包</span><span class="k">施</span><span class="k">工</span><span class="k">单</span><span class="k">位</span></div></div><div class="c" style="left:451px;top:479.2px;width:53px;height:37.6px"><div class="n" style="top:11.8px;line-height:16px">15</div></div><div class="c" style="left:506px;top:479.2px;width:42px;height:37.6px"><div class="d" style="left:1px;top:7.2px;line-height:12.5px"><i class="h hx">X</i><i class="h hx">X</i><i class="h">+</i><i class="h">1</i><span class="kd">年</span><i class="h">1</i></div><div class="d" style="left:1px;top:19.7px;line-height:12.5px"><span class="kd">月</span></div></div><div class="c" style="left:549px;top:479.2px;width:38px;height:37.6px"><div class="d" style="left:1px;top:7.2px;line-height:12.5px"><i class="h hx">X</i><i class="h hx">X</i><i class="h">+</i><i class="h">1</i><span class="kd">年</span></div><div class="d" style="left:1px;top:19.7px;line-height:12.5px"><i class="h">1</i><span class="kd">月</span></div></div><div class="c" style="left:1px;top:516.8px;width:106px;height:37.4px"><div class="t" style="left:3px;top:4.1px;line-height:16.1px"><span class="k">综</span><span class="k">合</span><span class="k">区</span><span class="k">电</span><span class="k">气</span><span class="k">设</span><span class="k">备</span></div><div class="t" style="left:3px;top:20.2px;line-height:16.1px"><span class="k">安</span><span class="k">装</span><span class="k">完</span><span class="k">成</span></div></div><div class="c" style="left:109px;top:516.8px;width:186px;height:37.4px"><div class="t sf" style="left:32px;top:12.15px;line-height:16.1px"><span class="as">11. 2. 2</span><span class="k">开</span><span class="k">关</span><span class="k">站</span><span class="k">电</span><span class="k">气</span><span class="k">试</span><span class="k">验</span></div></div><div class="c" style="left:296px;top:516.8px;width:94px;height:37.4px"><div class="t" style="left:3px;top:12.15px;line-height:16.1px"><span class="k">总</span><span class="k">包</span><span class="k">施</span><span class="k">工</span><span class="k">单</span><span class="k">位</span></div></div><div class="c" style="left:451px;top:516.8px;width:53px;height:37.4px"><div class="n" style="top:11.7px;line-height:16px">7</div></div><div class="c" style="left:506px;top:516.8px;width:42px;height:37.4px"><div class="d" style="left:1px;top:7.1px;line-height:12.5px"><i class="h hx">X</i><i class="h hx">X</i><i class="h">+</i><i class="h">1</i><span class="kd">年</span><i class="h">1</i></div><div class="d" style="left:1px;top:19.6px;line-height:12.5px"><span class="kd">月</span></div></div><div class="c" style="left:549px;top:516.8px;width:38px;height:37.4px"><div class="d" style="left:1px;top:7.1px;line-height:12.5px"><i class="h hx">X</i><i class="h hx">X</i><i class="h">+</i><i class="h">1</i><span class="kd">年</span></div><div class="d" style="left:1px;top:19.6px;line-height:12.5px"><i class="h">1</i><span class="kd">月</span></div></div><div class="c" style="left:1px;top:554.2px;width:106px;height:37.4px"><div class="t" style="left:3px;top:4.1px;line-height:16.1px"><span class="k">综</span><span class="k">合</span><span class="k">区</span><span class="k">电</span><span class="k">气</span><span class="k">设</span><span class="k">备</span></div><div class="t" style="left:3px;top:20.2px;line-height:16.1px"><span class="k">安</span><span class="k">装</span><span class="k">完</span><span class="k">成</span></div></div><div class="c" style="left:109px;top:554.2px;width:186px;height:37.4px"><div class="t sf" style="left:32px;top:12.15px;line-height:16.1px"><span class="as">11. 2. 3</span><span class="k">开</span><span class="k">关</span><span class="k">柜</span><span class="k">交</span><span class="k">接</span><span class="k">试</span><span class="k">验</span></div></div><div class="c" style="left:296px;top:554.2px;width:94px;height:37.4px"><div class="t" style="left:3px;top:12.15px;line-height:16.1px"><span class="k">总</span><span class="k">包</span><span class="k">施</span><span class="k">工</span><span class="k">单</span><span class="k">位</span></div></div><div class="c" style="left:451px;top:554.2px;width:53px;height:37.4px"><div class="n" style="top:11.7px;line-height:16px">7</div></div><div class="c" style="left:506px;top:554.2px;width:42px;height:37.4px"><div class="d" style="left:1px;top:7.1px;line-height:12.5px"><i class="h hx">X</i><i class="h hx">X</i><i class="h">+</i><i class="h">1</i><span class="kd">年</span><i class="h">1</i></div><div class="d" style="left:1px;top:19.6px;line-height:12.5px"><span class="kd">月</span></div></div><div class="c" style="left:549px;top:554.2px;width:38px;height:37.4px"><div class="d" style="left:1px;top:7.1px;line-height:12.5px"><i class="h hx">X</i><i class="h hx">X</i><i class="h">+</i><i class="h">1</i><span class="kd">年</span></div><div class="d" style="left:1px;top:19.6px;line-height:12.5px"><i class="h">1</i><span class="kd">月</span></div></div><div class="c" style="left:1px;top:591.6px;width:106px;height:37.4px"><div class="t" style="left:3px;top:4.1px;line-height:16.1px"><span class="k">综</span><span class="k">合</span><span class="k">区</span><span class="k">电</span><span class="k">气</span><span class="k">设</span><span class="k">备</span></div><div class="t" style="left:3px;top:20.2px;line-height:16.1px"><span class="k">安</span><span class="k">装</span><span class="k">完</span><span class="k">成</span></div></div><div class="c" style="left:109px;top:591.6px;width:186px;height:37.4px"><div class="t sf" style="left:32px;top:4.1px;line-height:16.1px"><span class="as">11. 2. 4</span><span class="k">开</span><span class="k">关</span><span class="k">柜</span><span class="k">电</span><span class="k">缆</span><span class="k">耐</span><span class="k">压</span><span class="k">试</span></div><div class="t sf" style="left:3px;top:20.2px;line-height:16.1px"><span class="k">验</span></div></div><div class="c" style="left:296px;top:591.6px;width:94px;height:37.4px"><div class="t" style="left:3px;top:12.15px;line-height:16.1px"><span class="k">总</span><span class="k">包</span><span class="k">施</span><span class="k">工</span><span class="k">单</span><span class="k">位</span></div></div><div class="c" style="left:451px;top:591.6px;width:53px;height:37.4px"><div class="n" style="top:11.7px;line-height:16px">7</div></div><div class="c" style="left:506px;top:591.6px;width:42px;height:37.4px"><div class="d" style="left:1px;top:7.1px;line-height:12.5px"><i class="h hx">X</i><i class="h hx">X</i><i class="h">+</i><i class="h">1</i><span class="kd">年</span><i class="h">1</i></div><div class="d" style="left:1px;top:19.6px;line-height:12.5px"><span class="kd">月</span></div></div><div class="c" style="left:549px;top:591.6px;width:38px;height:37.4px"><div class="d" style="left:1px;top:7.1px;line-height:12.5px"><i class="h hx">X</i><i class="h hx">X</i><i class="h">+</i><i class="h">1</i><span class="kd">年</span></div><div class="d" style="left:1px;top:19.6px;line-height:12.5px"><i class="h">1</i><span class="kd">月</span></div></div><div class="c" style="left:1px;top:629px;width:106px;height:37.5px"><div class="t" style="left:3px;top:4.15px;line-height:16.1px"><span class="k">综</span><span class="k">合</span><span class="k">区</span><span class="k">电</span><span class="k">气</span><span class="k">设</span><span class="k">备</span></div><div class="t" style="left:3px;top:20.25px;line-height:16.1px"><span class="k">安</span><span class="k">装</span><span class="k">完</span><span class="k">成</span></div></div><div class="c" style="left:109px;top:629px;width:186px;height:37.5px"><div class="t sf" style="left:32px;top:12.2px;line-height:16.1px"><span class="as">11. 2. 5<span class="lt">C</span><span class="lt">T</span></span><span class="k">、</span><span class="as"><span class="lt">P</span><span class="lt">T</span></span><span class="k">校</span><span class="k">验</span><span class="k">试</span><span class="k">验</span></div></div><div class="c" style="left:296px;top:629px;width:94px;height:37.5px"><div class="t" style="left:3px;top:12.2px;line-height:16.1px"><span class="k">总</span><span class="k">包</span><span class="k">施</span><span class="k">工</span><span class="k">单</span><span class="k">位</span></div></div><div class="c" style="left:451px;top:629px;width:53px;height:37.5px"><div class="n" style="top:11.75px;line-height:16px">7</div></div><div class="c" style="left:506px;top:629px;width:42px;height:37.5px"><div class="d" style="left:1px;top:7.15px;line-height:12.5px"><i class="h hx">X</i><i class="h hx">X</i><i class="h">+</i><i class="h">1</i><span class="kd">年</span><i class="h">1</i></div><div class="d" style="left:1px;top:19.65px;line-height:12.5px"><span class="kd">月</span></div></div><div class="c" style="left:549px;top:629px;width:38px;height:37.5px"><div class="d" style="left:1px;top:7.15px;line-height:12.5px"><i class="h hx">X</i><i class="h hx">X</i><i class="h">+</i><i class="h">1</i><span class="kd">年</span></div><div class="d" style="left:1px;top:19.65px;line-height:12.5px"><i class="h">1</i><span class="kd">月</span></div></div><div class="c" style="left:1px;top:666.5px;width:106px;height:37.5px"><div class="t" style="left:3px;top:4.15px;line-height:16.1px"><span class="k">综</span><span class="k">合</span><span class="k">区</span><span class="k">电</span><span class="k">气</span><span class="k">设</span><span class="k">备</span></div><div class="t" style="left:3px;top:20.25px;line-height:16.1px"><span class="k">安</span><span class="k">装</span><span class="k">完</span><span class="k">成</span></div></div><div class="c" style="left:109px;top:666.5px;width:186px;height:37.5px"><div class="t sf" style="left:32px;top:12.2px;line-height:16.1px"><span class="as">11. 2. 6</span><span class="k">降</span><span class="k">压</span><span class="k">变</span><span class="k">试</span><span class="k">验</span></div></div><div class="c" style="left:296px;top:666.5px;width:94px;height:37.5px"><div class="t" style="left:3px;top:12.2px;line-height:16.1px"><span class="k">总</span><span class="k">包</span><span class="k">施</span><span class="k">工</span><span class="k">单</span><span class="k">位</span></div></div><div class="c" style="left:451px;top:666.5px;width:53px;height:37.5px"><div class="n" style="top:11.75px;line-height:16px">5</div></div><div class="c" style="left:506px;top:666.5px;width:42px;height:37.5px"><div class="d" style="left:1px;top:7.15px;line-height:12.5px"><i class="h hx">X</i><i class="h hx">X</i><i class="h">+</i><i class="h">1</i><span class="kd">年</span><i class="h">1</i></div><div class="d" style="left:1px;top:19.65px;line-height:12.5px"><span class="kd">月</span></div></div><div class="c" style="left:549px;top:666.5px;width:38px;height:37.5px"><div class="d" style="left:1px;top:7.15px;line-height:12.5px"><i class="h hx">X</i><i class="h hx">X</i><i class="h">+</i><i class="h">1</i><span class="kd">年</span></div><div class="d" style="left:1px;top:19.65px;line-height:12.5px"><i class="h">1</i><span class="kd">月</span></div></div><div class="c" style="left:1px;top:704px;width:106px;height:36.2px"><div class="t" style="left:3px;top:3.5px;line-height:16.1px"><span class="k">综</span><span class="k">合</span><span class="k">区</span><span class="k">电</span><span class="k">气</span><span class="k">设</span><span class="k">备</span></div><div class="t" style="left:3px;top:19.6px;line-height:16.1px"><span class="k">安</span><span class="k">装</span><span class="k">完</span><span class="k">成</span></div></div><div class="c" style="left:109px;top:704px;width:186px;height:36.2px"><div class="t sf" style="left:17px;top:11.55px;line-height:16.1px"><span class="as">11. 3</span><span class="k">全</span><span class="k">厂</span><span class="k">接</span><span class="k">地</span><span class="k">电</span><span class="k">阻</span><span class="k">试</span><span class="k">验</span></div></div><div class="c" style="left:451px;top:704px;width:53px;height:36.2px"><div class="n" style="top:11.1px;line-height:16px">15</div></div><div class="c" style="left:506px;top:704px;width:42px;height:36.2px"><div class="d" style="left:1px;top:6.5px;line-height:12.5px"><i class="h hx">X</i><i class="h hx">X</i><i class="h">+</i><i class="h">1</i><span class="kd">年</span><i class="h">1</i></div><div class="d" style="left:1px;top:19px;line-height:12.5px"><span class="kd">月</span></div></div><div class="c" style="left:549px;top:704px;width:38px;height:36.2px"><div class="d" style="left:1px;top:6.5px;line-height:12.5px"><i class="h hx">X</i><i class="h hx">X</i><i class="h">+</i><i class="h">1</i><span class="kd">年</span></div><div class="d" style="left:1px;top:19px;line-height:12.5px"><i class="h">1</i><span class="kd">月</span></div></div><div class="c" style="left:1px;top:740.2px;width:106px;height:30.2px"><div class="t" style="left:3px;top:9.2px;line-height:14.8px"><span class="k">送</span><span class="k">出</span><span class="k">工</span><span class="k">程</span><span class="k">完</span><span class="k">工</span></div></div><div class="c" style="left:109px;top:740.2px;width:186px;height:30.2px"><div class="t sf" style="left:17px;top:9.2px;line-height:14.8px"><span class="as">11. 4</span><span class="k">送</span><span class="k">出</span><span class="k">工</span><span class="k">程</span><span class="k">试</span><span class="k">验</span></div></div><div class="c" style="left:296px;top:740.2px;width:94px;height:30.2px"><div class="t" style="left:3px;top:1.8px;line-height:14.8px"><span class="k">送</span><span class="k">出</span><span class="k">接</span><span class="k">入</span><span class="k">施</span><span class="k">工</span></div><div class="t" style="left:3px;top:16.6px;line-height:14.8px"><span class="k">单</span><span class="k">位</span></div></div><div class="c" style="left:451px;top:740.2px;width:53px;height:30.2px"><div class="n" style="top:8.1px;line-height:16px">15</div></div><div class="c" style="left:506px;top:740.2px;width:42px;height:30.2px"><div class="d" style="left:1px;top:3.5px;line-height:12.5px"><i class="h hx">X</i><i class="h hx">X</i><i class="h">+</i><i class="h">1</i><span class="kd">年</span><i class="h">1</i></div><div class="d" style="left:1px;top:16px;line-height:12.5px"><span class="kd">月</span></div></div><div class="c" style="left:549px;top:740.2px;width:38px;height:30.2px"><div class="d" style="left:1px;top:3.5px;line-height:12.5px"><i class="h hx">X</i><i class="h hx">X</i><i class="h">+</i><i class="h">1</i><span class="kd">年</span></div><div class="d" style="left:1px;top:16px;line-height:12.5px"><i class="h">1</i><span class="kd">月</span></div></div><div class="c" style="left:1px;top:770.4px;width:106px;height:30.2px"><div class="t" style="left:3px;top:9.2px;line-height:14.8px"><span class="k">送</span><span class="k">出</span><span class="k">工</span><span class="k">程</span><span class="k">完</span><span class="k">工</span></div></div><div class="c" style="left:109px;top:770.4px;width:186px;height:30.2px"><div class="t sf" style="left:32px;top:1.8px;line-height:14.8px"><span class="as">11. 4. 1</span><span class="k">送</span><span class="k">出</span><span class="k">工</span><span class="k">程</span><span class="k">接</span><span class="k">地</span><span class="k">电</span><span class="k">阻</span></div><div class="t sf" style="left:3px;top:16.6px;line-height:14.8px"><span class="k">测</span><span class="k">试</span></div></div><div class="c" style="left:296px;top:770.4px;width:94px;height:30.2px"><div class="t" style="left:3px;top:1.8px;line-height:14.8px"><span class="k">送</span><span class="k">出</span><span class="k">接</span><span class="k">入</span><span class="k">施</span><span class="k">工</span></div><div class="t" style="left:3px;top:16.6px;line-height:14.8px"><span class="k">单</span><span class="k">位</span></div></div><div class="c" style="left:451px;top:770.4px;width:53px;height:30.2px"><div class="n" style="top:8.1px;line-height:16px">10</div></div><div class="c" style="left:506px;top:770.4px;width:42px;height:30.2px"><div class="d" style="left:1px;top:3.5px;line-height:12.5px"><i class="h hx">X</i><i class="h hx">X</i><i class="h">+</i><i class="h">1</i><span class="kd">年</span><i class="h">1</i></div><div class="d" style="left:1px;top:16px;line-height:12.5px"><span class="kd">月</span></div></div><div class="c" style="left:549px;top:770.4px;width:38px;height:30.2px"><div class="d" style="left:1px;top:3.5px;line-height:12.5px"><i class="h hx">X</i><i class="h hx">X</i><i class="h">+</i><i class="h">1</i><span class="kd">年</span></div><div class="d" style="left:1px;top:16px;line-height:12.5px"><i class="h">1</i><span class="kd">月</span></div></div><div class="c" style="left:1px;top:800.6px;width:106px;height:30px"><div class="t" style="left:3px;top:9.1px;line-height:14.8px"><span class="k">送</span><span class="k">出</span><span class="k">工</span><span class="k">程</span><span class="k">完</span><span class="k">工</span></div></div><div class="c" style="left:109px;top:800.6px;width:186px;height:30px"><div class="t sf" style="left:32px;top:9.1px;line-height:14.8px"><span class="as">11. 4. 2</span><span class="k">接</span><span class="k">入</span><span class="k">工</span><span class="k">程</span><span class="k">实</span><span class="k">测</span><span class="k">定</span><span class="k">值</span></div></div><div class="c" style="left:296px;top:800.6px;width:94px;height:30px"><div class="t" style="left:3px;top:1.7px;line-height:14.8px"><span class="k">送</span><span class="k">出</span><span class="k">接</span><span class="k">入</span><span class="k">施</span><span class="k">工</span></div><div class="t" style="left:3px;top:16.5px;line-height:14.8px"><span class="k">单</span><span class="k">位</span></div></div><div class="c" style="left:451px;top:800.6px;width:53px;height:30px"><div class="n" style="top:8px;line-height:16px">5</div></div><div class="c" style="left:506px;top:800.6px;width:42px;height:30px"><div class="d" style="left:1px;top:3.4px;line-height:12.5px"><i class="h hx">X</i><i class="h hx">X</i><i class="h">+</i><i class="h">1</i><span class="kd">年</span><i class="h">1</i></div><div class="d" style="left:1px;top:15.9px;line-height:12.5px"><span class="kd">月</span></div></div><div class="c" style="left:549px;top:800.6px;width:38px;height:30px"><div class="d" style="left:1px;top:3.4px;line-height:12.5px"><i class="h hx">X</i><i class="h hx">X</i><i class="h">+</i><i class="h">1</i><span class="kd">年</span></div><div class="d" style="left:1px;top:15.9px;line-height:12.5px"><i class="h">1</i><span class="kd">月</span></div></div><div class="c" style="left:1px;top:830.6px;width:106px;height:30.2px"><div class="t" style="left:3px;top:9.2px;line-height:14.8px"><span class="k">接</span><span class="k">入</span><span class="k">工</span><span class="k">程</span><span class="k">完</span><span class="k">工</span></div></div><div class="c" style="left:109px;top:830.6px;width:186px;height:30.2px"><div class="t sf" style="left:17px;top:9.2px;line-height:14.8px"><span class="as">11. 5</span><span class="k">接</span><span class="k">入</span><span class="k">工</span><span class="k">程</span><span class="k">试</span><span class="k">验</span></div></div><div class="c" style="left:296px;top:830.6px;width:94px;height:30.2px"><div class="t" style="left:3px;top:1.8px;line-height:14.8px"><span class="k">送</span><span class="k">出</span><span class="k">接</span><span class="k">入</span><span class="k">施</span><span class="k">工</span></div><div class="t" style="left:3px;top:16.6px;line-height:14.8px"><span class="k">单</span><span class="k">位</span></div></div><div class="c" style="left:451px;top:830.6px;width:53px;height:30.2px"><div class="n" style="top:8.1px;line-height:16px">15</div></div><div class="c" style="left:506px;top:830.6px;width:42px;height:30.2px"><div class="d" style="left:1px;top:3.5px;line-height:12.5px"><i class="h hx">X</i><i class="h hx">X</i><span class="kd">年</span><i class="h">1</i><i class="h">2</i></div><div class="d" style="left:1px;top:16px;line-height:12.5px"><span class="kd">月</span></div></div><div class="c" style="left:549px;top:830.6px;width:38px;height:30.2px"><div class="d" style="left:1px;top:3.5px;line-height:12.5px"><i class="h hx">X</i><i class="h hx">X</i><span class="kd">年</span><i class="h">1</i><i class="h">2</i></div><div class="d" style="left:1px;top:16px;line-height:12.5px"><span class="kd">月</span></div></div><div class="c" style="left:1px;top:860.8px;width:106px;height:30.2px"><div class="t" style="left:3px;top:9.2px;line-height:14.8px"><span class="k">设</span><span class="k">备</span><span class="k">到</span><span class="k">货</span></div></div><div class="c" style="left:109px;top:860.8px;width:186px;height:30.2px"><div class="t sf" style="left:32px;top:1.8px;line-height:14.8px"><span class="as">11. 5. 1</span><span class="k">接</span><span class="k">入</span><span class="k">工</span><span class="k">程</span><span class="as"><span class="lt">C</span><span class="lt">T</span></span><span class="k">、</span><span class="as"><span class="lt">P</span><span class="lt">T</span></span><span class="k">校</span></div><div class="t sf" style="left:3px;top:16.6px;line-height:14.8px"><span class="k">验</span></div></div><div class="c" style="left:296px;top:860.8px;width:94px;height:30.2px"><div class="t" style="left:3px;top:1.8px;line-height:14.8px"><span class="k">送</span><span class="k">出</span><span class="k">接</span><span class="k">入</span><span class="k">施</span><span class="k">工</span></div><div class="t" style="left:3px;top:16.6px;line-height:14.8px"><span class="k">单</span><span class="k">位</span></div></div><div class="c" style="left:451px;top:860.8px;width:53px;height:30.2px"><div class="n" style="top:8.1px;line-height:16px">10</div></div><div class="c" style="left:506px;top:860.8px;width:42px;height:30.2px"><div class="d" style="left:1px;top:3.5px;line-height:12.5px"><i class="h hx">X</i><i class="h hx">X</i><span class="kd">年</span><i class="h">1</i><i class="h">2</i></div><div class="d" style="left:1px;top:16px;line-height:12.5px"><span class="kd">月</span></div></div><div class="c" style="left:549px;top:860.8px;width:38px;height:30.2px"><div class="d" style="left:1px;top:3.5px;line-height:12.5px"><i class="h hx">X</i><i class="h hx">X</i><span class="kd">年</span><i class="h">1</i><i class="h">2</i></div><div class="d" style="left:1px;top:16px;line-height:12.5px"><span class="kd">月</span></div></div><div class="c" style="left:1px;top:891px;width:106px;height:30.2px"><div class="t" style="left:3px;top:9.2px;line-height:14.8px"><span class="k">接</span><span class="k">入</span><span class="k">工</span><span class="k">程</span><span class="k">完</span><span class="k">工</span></div></div><div class="c" style="left:109px;top:891px;width:186px;height:30.2px"><div class="t sf" style="left:32px;top:1.8px;line-height:14.8px"><span class="as">11. 5. 2</span><span class="k">接</span><span class="k">入</span><span class="k">工</span><span class="k">程</span><span class="k">一</span><span class="k">次</span><span class="k">设</span><span class="k">备</span></div><div class="t sf" style="left:3px;top:16.6px;line-height:14.8px"><span class="k">试</span><span class="k">验</span></div></div><div class="c" style="left:296px;top:891px;width:94px;height:30.2px"><div class="t" style="left:3px;top:1.8px;line-height:14.8px"><span class="k">送</span><span class="k">出</span><span class="k">接</span><span class="k">入</span><span class="k">施</span><span class="k">工</span></div><div class="t" style="left:3px;top:16.6px;line-height:14.8px"><span class="k">单</span><span class="k">位</span></div></div><div class="c" style="left:451px;top:891px;width:53px;height:30.2px"><div class="n" style="top:8.1px;line-height:16px">10</div></div><div class="c" style="left:506px;top:891px;width:42px;height:30.2px"><div class="d" style="left:1px;top:3.5px;line-height:12.5px"><i class="h hx">X</i><i class="h hx">X</i><span class="kd">年</span><i class="h">1</i><i class="h">2</i></div><div class="d" style="left:1px;top:16px;line-height:12.5px"><span class="kd">月</span></div></div><div class="c" style="left:549px;top:891px;width:38px;height:30.2px"><div class="d" style="left:1px;top:3.5px;line-height:12.5px"><i class="h hx">X</i><i class="h hx">X</i><span class="kd">年</span><i class="h">1</i><i class="h">2</i></div><div class="d" style="left:1px;top:16px;line-height:12.5px"><span class="kd">月</span></div></div><div class="c" style="left:1px;top:921.2px;width:106px;height:40.1px"><div class="t" style="left:3px;top:14.15px;line-height:14.8px"><span class="k">接</span><span class="k">入</span><span class="k">工</span><span class="k">程</span><span class="k">完</span><span class="k">工</span></div></div><div class="c" style="left:109px;top:921.2px;width:186px;height:40.1px"><div class="t sf" style="left:32px;top:6.75px;line-height:14.8px"><span class="as">11. 5. 3</span><span class="k">送</span><span class="k">出</span><span class="k">接</span><span class="k">入</span><span class="k">工</span><span class="k">程</span><span class="k">二</span><span class="k">次</span></div><div class="t sf" style="left:3px;top:21.55px;line-height:14.8px"><span class="k">设</span><span class="k">备</span><span class="k">试</span><span class="k">验</span></div></div><div class="c" style="left:296px;top:921.2px;width:94px;height:40.1px"><div class="t" style="left:3px;top:6.75px;line-height:14.8px"><span class="k">送</span><span class="k">出</span><span class="k">接</span><span class="k">入</span><span class="k">施</span><span class="k">工</span></div><div class="t" style="left:3px;top:21.55px;line-height:14.8px"><span class="k">单</span><span class="k">位</span></div></div><div class="c" style="left:451px;top:921.2px;width:53px;height:40.1px"><div class="n" style="top:13.05px;line-height:16px">10</div></div><div class="c" style="left:506px;top:921.2px;width:42px;height:40.1px"><div class="d" style="left:1px;top:8.45px;line-height:12.5px"><i class="h hx">X</i><i class="h hx">X</i><span class="kd">年</span><i class="h">1</i><i class="h">2</i></div><div class="d" style="left:1px;top:20.95px;line-height:12.5px"><span class="kd">月</span></div></div><div class="c" style="left:549px;top:921.2px;width:38px;height:40.1px"><div class="d" style="left:1px;top:8.45px;line-height:12.5px"><i class="h hx">X</i><i class="h hx">X</i><span class="kd">年</span><i class="h">1</i><i class="h">2</i></div><div class="d" style="left:1px;top:20.95px;line-height:12.5px"><span class="kd">月</span></div></div><div class="c" style="left:1px;top:961.3px;width:106px;height:29.9px"><div class="t" style="left:3px;top:9.05px;line-height:14.8px"><span class="k">接</span><span class="k">入</span><span class="k">工</span><span class="k">程</span><span class="k">完</span><span class="k">工</span></div></div><div class="c" style="left:109px;top:961.3px;width:186px;height:29.9px"><div class="t sf" style="left:17px;top:9.05px;line-height:14.8px"><span class="as">11. 6</span><span class="k">接</span><span class="k">入</span><span class="k">工</span><span class="k">程</span><span class="k">调</span><span class="k">试</span></div></div><div class="c" style="left:296px;top:961.3px;width:94px;height:29.9px"><div class="t" style="left:3px;top:1.65px;line-height:14.8px"><span class="k">送</span><span class="k">出</span><span class="k">接</span><span class="k">入</span><span class="k">施</span><span class="k">工</span></div><div class="t" style="left:3px;top:16.45px;line-height:14.8px"><span class="k">单</span><span class="k">位</span></div></div><div class="c" style="left:451px;top:961.3px;width:53px;height:29.9px"><div class="n" style="top:7.95px;line-height:16px">15</div></div><div class="c" style="left:506px;top:961.3px;width:42px;height:29.9px"><div class="d" style="left:1px;top:3.35px;line-height:12.5px"><i class="h hx">X</i><i class="h hx">X</i><span class="kd">年</span><i class="h">1</i><i class="h">2</i></div><div class="d" style="left:1px;top:15.85px;line-height:12.5px"><span class="kd">月</span></div></div><div class="c" style="left:549px;top:961.3px;width:38px;height:29.9px"><div class="d" style="left:1px;top:3.35px;line-height:12.5px"><i class="h hx">X</i><i class="h hx">X</i><span class="kd">年</span><i class="h">1</i><i class="h">2</i></div><div class="d" style="left:1px;top:15.85px;line-height:12.5px"><span class="kd">月</span></div></div><div class="c" style="left:1px;top:991.2px;width:106px;height:30.7px"><div class="t" style="left:3px;top:9.45px;line-height:14.8px"><span class="k">接</span><span class="k">入</span><span class="k">工</span><span class="k">程</span><span class="k">完</span><span class="k">工</span></div></div><div class="c" style="left:109px;top:991.2px;width:186px;height:30.7px"><div class="t sf" style="left:32px;top:2.05px;line-height:14.8px"><span class="as">11. 6. 1</span><span class="k">接</span><span class="k">入</span><span class="k">工</span><span class="k">程</span><span class="k">一</span><span class="k">次</span><span class="k">设</span><span class="k">备</span></div><div class="t sf" style="left:3px;top:16.85px;line-height:14.8px"><span class="k">调</span><span class="k">试</span></div></div><div class="c" style="left:296px;top:991.2px;width:94px;height:30.7px"><div class="t" style="left:3px;top:2.05px;line-height:14.8px"><span class="k">送</span><span class="k">出</span><span class="k">接</span><span class="k">入</span><span class="k">施</span><span class="k">工</span></div><div class="t" style="left:3px;top:16.85px;line-height:14.8px"><span class="k">单</span><span class="k">位</span></div></div><div class="c" style="left:451px;top:991.2px;width:53px;height:30.7px"><div class="n" style="top:8.35px;line-height:16px">5</div></div><div class="c" style="left:506px;top:991.2px;width:42px;height:30.7px"><div class="d" style="left:1px;top:3.75px;line-height:12.5px"><i class="h hx">X</i><i class="h hx">X</i><span class="kd">年</span><i class="h">1</i><i class="h">2</i></div><div class="d" style="left:1px;top:16.25px;line-height:12.5px"><span class="kd">月</span></div></div><div class="c" style="left:549px;top:991.2px;width:38px;height:30.7px"><div class="d" style="left:1px;top:3.75px;line-height:12.5px"><i class="h hx">X</i><i class="h hx">X</i><span class="kd">年</span><i class="h">1</i><i class="h">2</i></div><div class="d" style="left:1px;top:16.25px;line-height:12.5px"><span class="kd">月</span></div></div><div class="c" style="left:1px;top:1021.9px;width:106px;height:30.4px"><div class="t" style="left:3px;top:9.3px;line-height:14.8px"><span class="k">接</span><span class="k">入</span><span class="k">工</span><span class="k">程</span><span class="k">完</span><span class="k">工</span></div></div><div class="c" style="left:109px;top:1021.9px;width:186px;height:30.4px"><div class="t sf" style="left:32px;top:1.9px;line-height:14.8px"><span class="as">11. 6. 2</span><span class="k">接</span><span class="k">入</span><span class="k">工</span><span class="k">程</span><span class="k">保</span><span class="k">护</span><span class="k">设</span><span class="k">备</span></div><div class="t sf" style="left:3px;top:16.7px;line-height:14.8px"><span class="k">调</span><span class="k">试</span></div></div><div class="c" style="left:296px;top:1021.9px;width:94px;height:30.4px"><div class="t" style="left:3px;top:1.9px;line-height:14.8px"><span class="k">送</span><span class="k">出</span><span class="k">接</span><span class="k">入</span><span class="k">施</span><span class="k">工</span></div><div class="t" style="left:3px;top:16.7px;line-height:14.8px"><span class="k">单</span><span class="k">位</span></div></div><div class="c" style="left:451px;top:1021.9px;width:53px;height:30.4px"><div class="n" style="top:8.2px;line-height:16px">5</div></div><div class="c" style="left:506px;top:1021.9px;width:42px;height:30.4px"><div class="d" style="left:1px;top:3.6px;line-height:12.5px"><i class="h hx">X</i><i class="h hx">X</i><span class="kd">年</span><i class="h">1</i><i class="h">2</i></div><div class="d" style="left:1px;top:16.1px;line-height:12.5px"><span class="kd">月</span></div></div><div class="c" style="left:549px;top:1021.9px;width:38px;height:30.4px"><div class="d" style="left:1px;top:3.6px;line-height:12.5px"><i class="h hx">X</i><i class="h hx">X</i><span class="kd">年</span><i class="h">1</i><i class="h">2</i></div><div class="d" style="left:1px;top:16.1px;line-height:12.5px"><span class="kd">月</span></div></div><div class="c" style="left:1px;top:1052.3px;width:106px;height:30px"><div class="t" style="left:3px;top:9.1px;line-height:14.8px"><span class="k">接</span><span class="k">入</span><span class="k">工</span><span class="k">程</span><span class="k">完</span><span class="k">工</span></div></div><div class="c" style="left:109px;top:1052.3px;width:186px;height:30px"><div class="t sf" style="left:32px;top:1.7px;line-height:14.8px"><span class="as">11. 6. 3</span><span class="k">接</span><span class="k">入</span><span class="k">工</span><span class="k">程</span><span class="k">通</span><span class="k">信</span><span class="k">设</span><span class="k">备</span></div><div class="t sf" style="left:3px;top:16.5px;line-height:14.8px"><span class="k">调</span><span class="k">试</span></div></div><div class="c" style="left:296px;top:1052.3px;width:94px;height:30px"><div class="t" style="left:3px;top:1.7px;line-height:14.8px"><span class="k">送</span><span class="k">出</span><span class="k">接</span><span class="k">入</span><span class="k">施</span><span class="k">工</span></div><div class="t" style="left:3px;top:16.5px;line-height:14.8px"><span class="k">单</span><span class="k">位</span></div></div><div class="c" style="left:451px;top:1052.3px;width:53px;height:30px"><div class="n" style="top:8px;line-height:16px">5</div></div><div class="c" style="left:506px;top:1052.3px;width:42px;height:30px"><div class="d" style="left:1px;top:3.4px;line-height:12.5px"><i class="h hx">X</i><i class="h hx">X</i><span class="kd">年</span><i class="h">1</i><i class="h">2</i></div><div class="d" style="left:1px;top:15.9px;line-height:12.5px"><span class="kd">月</span></div></div><div class="c" style="left:549px;top:1052.3px;width:38px;height:30px"><div class="d" style="left:1px;top:3.4px;line-height:12.5px"><i class="h hx">X</i><i class="h hx">X</i><span class="kd">年</span><i class="h">1</i><i class="h">2</i></div><div class="d" style="left:1px;top:15.9px;line-height:12.5px"><span class="kd">月</span></div></div><div class="c" style="left:1px;top:1082.3px;width:106px;height:34.8px"><div class="t" style="left:3px;top:11.5px;line-height:14.8px"><span class="k">所</span><span class="k">有</span><span class="k">工</span><span class="k">程</span><span class="k">完</span><span class="k">工</span></div></div><div class="c" style="left:109px;top:1082.3px;width:186px;height:34.8px"><div class="t sf" style="left:17px;top:11.5px;line-height:14.8px"><span class="as">11. 7</span><span class="k">送</span><span class="k">出</span><span class="k">接</span><span class="k">入</span><span class="k">工</span><span class="k">程</span><span class="k">总</span><span class="k">体</span><span class="k">调</span><span class="k">试</span></div></div><div class="c" style="left:296px;top:1082.3px;width:94px;height:34.8px"><div class="t" style="left:3px;top:4.1px;line-height:14.8px"><span class="k">送</span><span class="k">出</span><span class="k">接</span><span class="k">入</span><span class="k">施</span><span class="k">工</span></div><div class="t" style="left:3px;top:18.9px;line-height:14.8px"><span class="k">单</span><span class="k">位</span></div></div><div class="c" style="left:451px;top:1082.3px;width:53px;height:34.8px"><div class="n" style="top:10.4px;line-height:16px">3</div></div><div class="c" style="left:506px;top:1082.3px;width:42px;height:34.8px"><div class="d" style="left:1px;top:5.8px;line-height:12.5px"><i class="h hx">X</i><i class="h hx">X</i><i class="h">+</i><i class="h">1</i><span class="kd">年</span><i class="h">1</i></div><div class="d" style="left:1px;top:18.3px;line-height:12.5px"><span class="kd">月</span></div></div><div class="c" style="left:549px;top:1082.3px;width:38px;height:34.8px"><div class="d" style="left:1px;top:5.8px;line-height:12.5px"><i class="h hx">X</i><i class="h hx">X</i><i class="h">+</i><i class="h">1</i><span class="kd">年</span></div><div class="d" style="left:1px;top:18.3px;line-height:12.5px"><i class="h">1</i><span class="kd">月</span></div></div><div class="c" style="left:1px;top:1117.1px;width:106px;height:30px"><div class="t" style="left:3px;top:1.7px;line-height:14.8px"><span class="k">取</span><span class="k">得</span><span class="k">接</span><span class="k">入</span><span class="k">系</span><span class="k">统</span><span class="k">批</span></div><div class="t" style="left:3px;top:16.5px;line-height:14.8px"><span class="k">复</span></div></div><div class="c" style="left:109px;top:1117.1px;width:186px;height:30px"><div class="t sf b" style="left:3px;top:9.1px;line-height:14.8px"><span class="as">12. </span><span class="kb">电</span><span class="kb">网</span><span class="kb">手</span><span class="kb">续</span><span class="kb">办</span><span class="kb">理</span></div></div><div class="c" style="left:451px;top:1117.1px;width:53px;height:30px"><div class="n" style="top:8px;line-height:16px">135</div></div><div class="c" style="left:506px;top:1117.1px;width:42px;height:30px"><div class="d" style="left:1px;top:9.65px;line-height:12.5px"><i class="h hx">X</i><i class="h hx">X</i><span class="kd">年</span><i class="h">9</i><span class="kd">月</span></div></div><div class="c" style="left:549px;top:1117.1px;width:38px;height:30px"><div class="d" style="left:1px;top:3.4px;line-height:12.5px"><i class="h hx">X</i><i class="h hx">X</i><i class="h">+</i><i class="h">1</i><span class="kd">年</span></div><div class="d" style="left:1px;top:15.9px;line-height:12.5px"><i class="h">1</i><span class="kd">月</span></div></div><div class="c" style="left:1px;top:1147.1px;width:106px;height:36.2px"><div class="t" style="left:3px;top:4.8px;line-height:14.8px"><span class="k">取</span><span class="k">得</span><span class="k">接</span><span class="k">入</span><span class="k">系</span><span class="k">统</span><span class="k">批</span></div><div class="t" style="left:3px;top:19.6px;line-height:14.8px"><span class="k">复</span></div></div><div class="c" style="left:109px;top:1147.1px;width:186px;height:36.2px"><div class="t sf" style="left:17px;top:12.2px;line-height:14.8px"><span class="as">12. 1</span><span class="k">并</span><span class="k">网</span><span class="k">协</span><span class="k">议</span></div></div><div class="c" style="left:296px;top:1147.1px;width:94px;height:36.2px"><div class="t" style="left:3px;top:12.2px;line-height:14.8px"><span class="k">省</span><span class="k">电</span><span class="k">网</span><span class="k">公</span><span class="k">司</span></div></div><div class="c" style="left:392px;top:1147.1px;width:57px;height:36.2px"><div class="t" style="left:3px;top:-2.6px;line-height:14.8px"><span class="k">并</span><span class="k">网</span><span class="k">前</span>4</div><div class="t" style="left:3px;top:12.2px;line-height:14.8px"><span class="k">个</span><span class="k">月</span><span class="k">办</span></div><div class="t" style="left:3px;top:27px;line-height:14.8px"><span class="k">理</span></div></div><div class="c" style="left:451px;top:1147.1px;width:53px;height:36.2px"><div class="n" style="top:11.1px;line-height:16px">30</div></div><div class="c" style="left:506px;top:1147.1px;width:42px;height:36.2px"><div class="d" style="left:1px;top:12.75px;line-height:12.5px"><i class="h hx">X</i><i class="h hx">X</i><span class="kd">年</span><i class="h">9</i><span class="kd">月</span></div></div><div class="c" style="left:549px;top:1147.1px;width:38px;height:36.2px"><div class="d" style="left:1px;top:6.5px;line-height:12.5px"><i class="h hx">X</i><i class="h hx">X</i><span class="kd">年</span><i class="h">9</i></div><div class="d" style="left:1px;top:19px;line-height:12.5px"><span class="kd">月</span></div></div><div class="c" style="left:1px;top:1183.3px;width:106px;height:30.3px"><div class="t" style="left:3px;top:9.25px;line-height:14.8px"><span class="k">并</span><span class="k">网</span><span class="k">协</span><span class="k">议</span></div></div><div class="c" style="left:109px;top:1183.3px;width:186px;height:30.3px"><div class="t sf" style="left:17px;top:9.25px;line-height:14.8px"><span class="as">12. 2</span><span class="k">并</span><span class="k">网</span><span class="k">调</span><span class="k">度</span><span class="k">协</span><span class="k">议</span></div></div><div class="c" style="left:296px;top:1183.3px;width:94px;height:30.3px"><div class="t" style="left:3px;top:9.25px;line-height:14.8px"><span class="k">省</span><span class="k">电</span><span class="k">网</span><span class="k">公</span><span class="k">司</span></div></div><div class="c" style="left:392px;top:1183.3px;width:57px;height:30.3px"><div class="t" style="left:3px;top:2px;line-height:14.8px"><span class="k">并</span><span class="k">网</span><span class="k">前</span>4</div><div class="t" style="left:3px;top:16.8px;line-height:14.8px"><span class="k">个</span><span class="k">月</span><span class="k">办</span></div><div class="t" style="left:3px;top:31.6px;line-height:14.8px"><span class="k">理</span></div></div><div class="c" style="left:451px;top:1183.3px;width:53px;height:30.3px"><div class="n" style="top:8.15px;line-height:16px">30</div></div><div class="c" style="left:506px;top:1183.3px;width:42px;height:30.3px"><div class="d" style="left:1px;top:3.55px;line-height:12.5px"><i class="h hx">X</i><i class="h hx">X</i><span class="kd">年</span><i class="h">1</i><i class="h">0</i></div><div class="d" style="left:1px;top:16.05px;line-height:12.5px"><span class="kd">月</span></div></div><div class="c" style="left:549px;top:1183.3px;width:38px;height:30.3px"><div class="d" style="left:1px;top:3.55px;line-height:12.5px"><i class="h hx">X</i><i class="h hx">X</i><span class="kd">年</span><i class="h">1</i><i class="h">0</i></div><div class="d" style="left:1px;top:16.05px;line-height:12.5px"><span class="kd">月</span></div></div><div class="c" style="left:1px;top:1213.6px;width:106px;height:29.9px"><div class="t" style="left:3px;top:9.05px;line-height:14.8px"><span class="k">并</span><span class="k">网</span><span class="k">、</span><span class="k">调</span><span class="k">度</span><span class="k">协</span><span class="k">议</span></div></div><div class="c" style="left:109px;top:1213.6px;width:186px;height:29.9px"><div class="t sf" style="left:17px;top:9.05px;line-height:14.8px"><span class="as">12. 3</span><span class="k">计</span><span class="k">量</span><span class="k">协</span><span class="k">议</span></div></div><div class="c" style="left:296px;top:1213.6px;width:94px;height:29.9px"><div class="t" style="left:3px;top:9.05px;line-height:14.8px"><span class="k">省</span><span class="k">电</span><span class="k">网</span><span class="k">公</span><span class="k">司</span></div></div><div class="c" style="left:392px;top:1213.6px;width:57px;height:29.9px"><div class="t" style="left:3px;top:2px;line-height:14.8px"><span class="k">并</span><span class="k">网</span><span class="k">前</span>4</div><div class="t" style="left:3px;top:16.8px;line-height:14.8px"><span class="k">个</span><span class="k">月</span><span class="k">办</span></div><div class="t" style="left:3px;top:31.6px;line-height:14.8px"><span class="k">理</span></div></div><div class="c" style="left:451px;top:1213.6px;width:53px;height:29.9px"><div class="n" style="top:7.95px;line-height:16px">30</div></div><div class="c" style="left:506px;top:1213.6px;width:42px;height:29.9px"><div class="d" style="left:1px;top:3.35px;line-height:12.5px"><i class="h hx">X</i><i class="h hx">X</i><span class="kd">年</span><i class="h">1</i><i class="h">1</i></div><div class="d" style="left:1px;top:15.85px;line-height:12.5px"><span class="kd">月</span></div></div><div class="c" style="left:549px;top:1213.6px;width:38px;height:29.9px"><div class="d" style="left:1px;top:3.35px;line-height:12.5px"><i class="h hx">X</i><i class="h hx">X</i><span class="kd">年</span><i class="h">1</i><i class="h">1</i></div><div class="d" style="left:1px;top:15.85px;line-height:12.5px"><span class="kd">月</span></div></div><div class="c" style="left:1px;top:1243.5px;width:106px;height:30.4px"><div class="t" style="left:3px;top:9.3px;line-height:14.8px"><span class="k">并</span><span class="k">网</span><span class="k">、</span><span class="k">调</span><span class="k">度</span><span class="k">协</span><span class="k">议</span></div></div><div class="c" style="left:109px;top:1243.5px;width:186px;height:30.4px"><div class="t sf" style="left:17px;top:9.3px;line-height:14.8px"><span class="as">12. 4</span><span class="k">售</span><span class="k">电</span><span class="k">协</span><span class="k">议</span></div></div><div class="c" style="left:296px;top:1243.5px;width:94px;height:30.4px"><div class="t" style="left:3px;top:9.3px;line-height:14.8px"><span class="k">省</span><span class="k">电</span><span class="k">网</span><span class="k">公</span><span class="k">司</span></div></div><div class="c" style="left:392px;top:1243.5px;width:57px;height:30.4px"><div class="t" style="left:3px;top:2px;line-height:14.8px"><span class="k">并</span><span class="k">网</span><span class="k">前</span>4</div><div class="t" style="left:3px;top:16.8px;line-height:14.8px"><span class="k">个</span><span class="k">月</span><span class="k">办</span></div><div class="t" style="left:3px;top:31.6px;line-height:14.8px"><span class="k">理</span></div></div><div class="c" style="left:451px;top:1243.5px;width:53px;height:30.4px"><div class="n" style="top:8.2px;line-height:16px">30</div></div><div class="c" style="left:506px;top:1243.5px;width:42px;height:30.4px"><div class="d" style="left:1px;top:3.6px;line-height:12.5px"><i class="h hx">X</i><i class="h hx">X</i><span class="kd">年</span><i class="h">1</i><i class="h">2</i></div><div class="d" style="left:1px;top:16.1px;line-height:12.5px"><span class="kd">月</span></div></div><div class="c" style="left:549px;top:1243.5px;width:38px;height:30.4px"><div class="d" style="left:1px;top:3.6px;line-height:12.5px"><i class="h hx">X</i><i class="h hx">X</i><span class="kd">年</span><i class="h">1</i><i class="h">2</i></div><div class="d" style="left:1px;top:16.1px;line-height:12.5px"><span class="kd">月</span></div></div><div class="c" style="left:1px;top:1273.9px;width:106px;height:30.3px"><div class="t" style="left:3px;top:9.25px;line-height:14.8px"><span class="k">并</span><span class="k">网</span><span class="k">、</span><span class="k">调</span><span class="k">度</span><span class="k">协</span><span class="k">议</span></div></div><div class="c" style="left:109px;top:1273.9px;width:186px;height:30.3px"><div class="t sf" style="left:17px;top:9.25px;line-height:14.8px"><span class="as">12. 5</span><span class="k">购</span><span class="k">电</span><span class="k">协</span><span class="k">议</span></div></div><div class="c" style="left:296px;top:1273.9px;width:94px;height:30.3px"><div class="t" style="left:3px;top:9.25px;line-height:14.8px"><span class="k">省</span><span class="k">电</span><span class="k">网</span><span class="k">公</span><span class="k">司</span></div></div><div class="c" style="left:392px;top:1273.9px;width:57px;height:30.3px"><div class="t" style="left:3px;top:2px;line-height:14.8px"><span class="k">并</span><span class="k">网</span><span class="k">前</span>4</div><div class="t" style="left:3px;top:16.8px;line-height:14.8px"><span class="k">个</span><span class="k">月</span><span class="k">办</span></div><div class="t" style="left:3px;top:31.6px;line-height:14.8px"><span class="k">理</span></div></div><div class="c" style="left:451px;top:1273.9px;width:53px;height:30.3px"><div class="n" style="top:8.15px;line-height:16px">30</div></div><div class="c" style="left:506px;top:1273.9px;width:42px;height:30.3px"><div class="d" style="left:1px;top:3.55px;line-height:12.5px"><i class="h hx">X</i><i class="h hx">X</i><span class="kd">年</span><i class="h">1</i><i class="h">2</i></div><div class="d" style="left:1px;top:16.05px;line-height:12.5px"><span class="kd">月</span></div></div><div class="c" style="left:549px;top:1273.9px;width:38px;height:30.3px"><div class="d" style="left:1px;top:3.55px;line-height:12.5px"><i class="h hx">X</i><i class="h hx">X</i><span class="kd">年</span><i class="h">1</i><i class="h">2</i></div><div class="d" style="left:1px;top:16.05px;line-height:12.5px"><span class="kd">月</span></div></div><div class="c" style="left:1px;top:1304.2px;width:106px;height:30.2px"><div class="t" style="left:3px;top:9.2px;line-height:14.8px"><span class="k">并</span><span class="k">网</span><span class="k">、</span><span class="k">调</span><span class="k">度</span><span class="k">协</span><span class="k">议</span></div></div><div class="c" style="left:109px;top:1304.2px;width:186px;height:30.2px"><div class="t sf" style="left:17px;top:9.2px;line-height:14.8px"><span class="as">12. 6</span><span class="k">设</span><span class="k">备</span><span class="k">编</span><span class="k">号</span><span class="k">与</span><span class="k">命</span><span class="k">名</span></div></div><div class="c" style="left:296px;top:1304.2px;width:94px;height:30.2px"><div class="t" style="left:3px;top:9.2px;line-height:14.8px"><span class="k">地</span><span class="k">方</span><span class="k">供</span><span class="k">电</span><span class="k">局</span></div></div><div class="c" style="left:392px;top:1304.2px;width:57px;height:30.2px"><div class="t" style="left:3px;top:2px;line-height:14.8px"><span class="k">并</span><span class="k">网</span><span class="k">前</span>4</div><div class="t" style="left:3px;top:16.8px;line-height:14.8px"><span class="k">个</span><span class="k">月</span><span class="k">办</span></div><div class="t" style="left:3px;top:31.6px;line-height:14.8px"><span class="k">理</span></div></div><div class="c" style="left:451px;top:1304.2px;width:53px;height:30.2px"><div class="n" style="top:8.1px;line-height:16px">30</div></div><div class="c" style="left:506px;top:1304.2px;width:42px;height:30.2px"><div class="d" style="left:1px;top:3.5px;line-height:12.5px"><i class="h hx">X</i><i class="h hx">X</i><span class="kd">年</span><i class="h">1</i><i class="h">2</i></div><div class="d" style="left:1px;top:16px;line-height:12.5px"><span class="kd">月</span></div></div><div class="c" style="left:549px;top:1304.2px;width:38px;height:30.2px"><div class="d" style="left:1px;top:3.5px;line-height:12.5px"><i class="h hx">X</i><i class="h hx">X</i><span class="kd">年</span><i class="h">1</i><i class="h">2</i></div><div class="d" style="left:1px;top:16px;line-height:12.5px"><span class="kd">月</span></div></div><div class="c" style="left:1px;top:1334.4px;width:106px;height:30.1px"><div class="t" style="left:3px;top:9.15px;line-height:14.8px"><span class="k">并</span><span class="k">网</span><span class="k">、</span><span class="k">调</span><span class="k">度</span><span class="k">协</span><span class="k">议</span></div></div><div class="c" style="left:109px;top:1334.4px;width:186px;height:30.1px"><div class="t sf" style="left:17px;top:9.15px;line-height:14.8px"><span class="as">12. 7</span><span class="k">新</span><span class="k">设</span><span class="k">备</span><span class="k">投</span><span class="k">运</span><span class="k">申</span><span class="k">请</span></div></div><div class="c" style="left:296px;top:1334.4px;width:94px;height:30.1px"><div class="t" style="left:3px;top:9.15px;line-height:14.8px"><span class="k">地</span><span class="k">方</span><span class="k">供</span><span class="k">电</span><span class="k">局</span></div></div><div class="c" style="left:392px;top:1334.4px;width:57px;height:30.1px"><div class="t" style="left:3px;top:2px;line-height:14.8px"><span class="k">并</span><span class="k">网</span><span class="k">前</span>4</div><div class="t" style="left:3px;top:16.8px;line-height:14.8px"><span class="k">个</span><span class="k">月</span><span class="k">办</span></div><div class="t" style="left:3px;top:31.6px;line-height:14.8px"><span class="k">理</span></div></div><div class="c" style="left:451px;top:1334.4px;width:53px;height:30.1px"><div class="n" style="top:8.05px;line-height:16px">30</div></div><div class="c" style="left:506px;top:1334.4px;width:42px;height:30.1px"><div class="d" style="left:1px;top:3.45px;line-height:12.5px"><i class="h hx">X</i><i class="h hx">X</i><span class="kd">年</span><i class="h">1</i><i class="h">2</i></div><div class="d" style="left:1px;top:15.95px;line-height:12.5px"><span class="kd">月</span></div></div><div class="c" style="left:549px;top:1334.4px;width:38px;height:30.1px"><div class="d" style="left:1px;top:3.45px;line-height:12.5px"><i class="h hx">X</i><i class="h hx">X</i><i class="h">+</i><i class="h">1</i><span class="kd">年</span></div><div class="d" style="left:1px;top:15.95px;line-height:12.5px"><i class="h">1</i><span class="kd">月</span></div></div><div class="c" style="left:1px;top:1364.5px;width:106px;height:30.6px"><div class="t" style="left:3px;top:9.4px;line-height:14.8px"><span class="k">并</span><span class="k">网</span><span class="k">、</span><span class="k">调</span><span class="k">度</span><span class="k">协</span><span class="k">议</span></div></div><div class="c" style="left:109px;top:1364.5px;width:186px;height:30.6px"><div class="t sf" style="left:17px;top:9.4px;line-height:14.8px"><span class="as">12. 8</span><span class="k">受</span><span class="k">令</span><span class="k">资</span><span class="k">格</span><span class="k">取</span><span class="k">得</span></div></div><div class="c" style="left:296px;top:1364.5px;width:94px;height:30.6px"><div class="t" style="left:3px;top:9.4px;line-height:14.8px"><span class="k">地</span><span class="k">方</span><span class="k">供</span><span class="k">电</span><span class="k">局</span></div></div><div class="c" style="left:392px;top:1364.5px;width:57px;height:30.6px"><div class="t" style="left:3px;top:2px;line-height:14.8px"><span class="k">并</span><span class="k">网</span><span class="k">前</span>4</div><div class="t" style="left:3px;top:16.8px;line-height:14.8px"><span class="k">个</span><span class="k">月</span><span class="k">办</span></div><div class="t" style="left:3px;top:31.6px;line-height:14.8px"><span class="k">理</span></div></div><div class="c" style="left:451px;top:1364.5px;width:53px;height:30.6px"><div class="n" style="top:8.3px;line-height:16px">15</div></div><div class="c" style="left:506px;top:1364.5px;width:42px;height:30.6px"><div class="d" style="left:1px;top:3.7px;line-height:12.5px"><i class="h hx">X</i><i class="h hx">X</i><i class="h">+</i><i class="h">1</i><span class="kd">年</span><i class="h">1</i></div><div class="d" style="left:1px;top:16.2px;line-height:12.5px"><span class="kd">月</span></div></div><div class="c" style="left:549px;top:1364.5px;width:38px;height:30.6px"><div class="d" style="left:1px;top:3.7px;line-height:12.5px"><i class="h hx">X</i><i class="h hx">X</i><i class="h">+</i><i class="h">1</i><span class="kd">年</span></div><div class="d" style="left:1px;top:16.2px;line-height:12.5px"><i class="h">1</i><span class="kd">月</span></div></div><div class="c" style="left:1px;top:1395.1px;width:106px;height:30.2px"><div class="t" style="left:3px;top:9.2px;line-height:14.8px"><span class="k">并</span><span class="k">网</span><span class="k">、</span><span class="k">调</span><span class="k">度</span><span class="k">协</span><span class="k">议</span></div></div><div class="c" style="left:109px;top:1395.1px;width:186px;height:30.2px"><div class="t sf" style="left:17px;top:9.2px;line-height:14.8px"><span class="as">12. 9. </span><span class="k">申</span><span class="k">请</span><span class="as"><span class="lt">V</span><span class="lt">P</span><span class="lt">N</span></span><span class="k">、</span><span class="as"><span class="lt">O</span><span class="lt">M</span><span class="lt">S</span></span><span class="k">开</span><span class="k">通</span></div></div><div class="c" style="left:296px;top:1395.1px;width:94px;height:30.2px"><div class="t" style="left:3px;top:9.2px;line-height:14.8px"><span class="k">地</span><span class="k">方</span><span class="k">供</span><span class="k">电</span><span class="k">局</span></div></div><div class="c" style="left:392px;top:1395.1px;width:57px;height:30.2px"><div class="t" style="left:3px;top:2px;line-height:14.8px"><span class="k">并</span><span class="k">网</span><span class="k">前</span>4</div><div class="t" style="left:3px;top:16.8px;line-height:14.8px"><span class="k">个</span><span class="k">月</span><span class="k">办</span></div><div class="t" style="left:3px;top:31.6px;line-height:14.8px"><span class="k">理</span></div></div><div class="c" style="left:451px;top:1395.1px;width:53px;height:30.2px"><div class="n" style="top:8.1px;line-height:16px">15</div></div><div class="c" style="left:506px;top:1395.1px;width:42px;height:30.2px"><div class="d" style="left:1px;top:3.5px;line-height:12.5px"><i class="h hx">X</i><i class="h hx">X</i><i class="h">+</i><i class="h">1</i><span class="kd">年</span><i class="h">1</i></div><div class="d" style="left:1px;top:16px;line-height:12.5px"><span class="kd">月</span></div></div><div class="c" style="left:549px;top:1395.1px;width:38px;height:30.2px"><div class="d" style="left:1px;top:3.5px;line-height:12.5px"><i class="h hx">X</i><i class="h hx">X</i><i class="h">+</i><i class="h">1</i><span class="kd">年</span></div><div class="d" style="left:1px;top:16px;line-height:12.5px"><i class="h">1</i><span class="kd">月</span></div></div><div class="c" style="left:1px;top:1425.3px;width:106px;height:37.4px"><div class="t" style="left:3px;top:12.8px;line-height:14.8px"><span class="k">并</span><span class="k">网</span><span class="k">、</span><span class="k">调</span><span class="k">度</span><span class="k">协</span><span class="k">议</span></div></div><div class="c" style="left:109px;top:1425.3px;width:186px;height:37.4px"><div class="t sf" style="left:17px;top:12.8px;line-height:14.8px"><span class="as">12. 10</span><span class="k">录</span><span class="k">入</span><span class="k">信</span><span class="k">息</span><span class="k">简</span><span class="k">表</span></div></div><div class="c" style="left:296px;top:1425.3px;width:94px;height:37.4px"><div class="t" style="left:3px;top:12.8px;line-height:14.8px"><span class="k">地</span><span class="k">方</span><span class="k">供</span><span class="k">电</span><span class="k">局</span></div></div><div class="c" style="left:392px;top:1425.3px;width:57px;height:37.4px"><div class="t" style="left:3px;top:2px;line-height:14.8px"><span class="k">并</span><span class="k">网</span><span class="k">前</span>4</div><div class="t" style="left:3px;top:16.8px;line-height:14.8px"><span class="k">个</span><span class="k">月</span><span class="k">办</span></div><div class="t" style="left:3px;top:31.6px;line-height:14.8px"><span class="k">理</span></div></div><div class="c" style="left:451px;top:1425.3px;width:53px;height:37.4px"><div class="n" style="top:11.7px;line-height:16px">15</div></div><div class="c" style="left:506px;top:1425.3px;width:42px;height:37.4px"><div class="d" style="left:1px;top:7.1px;line-height:12.5px"><i class="h hx">X</i><i class="h hx">X</i><i class="h">+</i><i class="h">1</i><span class="kd">年</span><i class="h">1</i></div><div class="d" style="left:1px;top:19.6px;line-height:12.5px"><span class="kd">月</span></div></div><div class="c" style="left:549px;top:1425.3px;width:38px;height:37.4px"><div class="d" style="left:1px;top:7.1px;line-height:12.5px"><i class="h hx">X</i><i class="h hx">X</i><i class="h">+</i><i class="h">1</i><span class="kd">年</span></div><div class="d" style="left:1px;top:19.6px;line-height:12.5px"><i class="h">1</i><span class="kd">月</span></div></div><div class="c" style="left:109px;top:1462.7px;width:186px;height:30.4px"><div class="t sf b" style="left:3px;top:9.3px;line-height:14.8px"><span class="as">13. </span><span class="kb">验</span><span class="kb">收</span><span class="kb">、</span><span class="kb">并</span><span class="kb">网</span></div></div><div class="c" style="left:296px;top:1462.7px;width:94px;height:30.4px"><div class="t" style="left:3px;top:9.3px;line-height:14.8px"><span class="k">地</span><span class="k">方</span><span class="k">供</span><span class="k">电</span><span class="k">局</span></div></div><div class="c" style="left:451px;top:1462.7px;width:53px;height:30.4px"><div class="n" style="top:8.2px;line-height:16px">15</div></div><div class="c" style="left:506px;top:1462.7px;width:42px;height:30.4px"><div class="d" style="left:1px;top:3.6px;line-height:12.5px"><i class="h hx">X</i><i class="h hx">X</i><i class="h">+</i><i class="h">1</i><span class="kd">年</span><i class="h">1</i></div><div class="d" style="left:1px;top:16.1px;line-height:12.5px"><span class="kd">月</span></div></div><div class="c" style="left:549px;top:1462.7px;width:38px;height:30.4px"><div class="d" style="left:1px;top:3.6px;line-height:12.5px"><i class="h hx">X</i><i class="h hx">X</i><i class="h">+</i><i class="h">1</i><span class="kd">年</span></div><div class="d" style="left:1px;top:16.1px;line-height:12.5px"><i class="h">1</i><span class="kd">月</span></div></div><div class="c" style="left:1px;top:1493.1px;width:106px;height:38.2px"><div class="t" style="left:3px;top:5.8px;line-height:14.8px"><span class="k">全</span><span class="k">部</span><span class="k">完</span><span class="k">工</span><span class="k">、</span><span class="k">试</span><span class="k">验</span></div><div class="t" style="left:3px;top:20.6px;line-height:14.8px"><span class="k">、</span><span class="k">调</span><span class="k">试</span><span class="k">合</span><span class="k">格</span></div></div><div class="c" style="left:109px;top:1493.1px;width:186px;height:38.2px"><div class="t sf" style="left:17px;top:13.2px;line-height:14.8px"><span class="as">13. 1</span><span class="k">验</span><span class="k">收</span><span class="k">计</span><span class="k">划</span></div></div><div class="c" style="left:296px;top:1493.1px;width:94px;height:38.2px"><div class="t" style="left:3px;top:13.2px;line-height:14.8px"><span class="k">地</span><span class="k">方</span><span class="k">供</span><span class="k">电</span><span class="k">局</span></div></div><div class="c" style="left:392px;top:1493.1px;width:57px;height:38.2px"><div class="t" style="left:3px;top:-1.6px;line-height:14.8px"><span class="k">需</span><span class="k">提</span><span class="k">前</span></div><div class="t" style="left:3px;top:13.2px;line-height:14.8px"><span class="k">一</span><span class="k">月</span><span class="k">报</span></div><div class="t" style="left:3px;top:28px;line-height:14.8px"><span class="k">计</span><span class="k">划</span></div></div><div class="c" style="left:451px;top:1493.1px;width:53px;height:38.2px"><div class="n" style="top:12.1px;line-height:16px">5</div></div><div class="c" style="left:506px;top:1493.1px;width:42px;height:38.2px"><div class="d" style="left:1px;top:7.5px;line-height:12.5px"><i class="h hx">X</i><i class="h hx">X</i><i class="h">+</i><i class="h">1</i><span class="kd">年</span><i class="h">1</i></div><div class="d" style="left:1px;top:20px;line-height:12.5px"><span class="kd">月</span></div></div><div class="c" style="left:549px;top:1493.1px;width:38px;height:38.2px"><div class="d" style="left:1px;top:7.5px;line-height:12.5px"><i class="h hx">X</i><i class="h hx">X</i><i class="h">+</i><i class="h">1</i><span class="kd">年</span></div><div class="d" style="left:1px;top:20px;line-height:12.5px"><i class="h">1</i><span class="kd">月</span></div></div><div class="c" style="left:1px;top:1531.3px;width:106px;height:30px"><div class="t" style="left:3px;top:1.7px;line-height:14.8px"><span class="k">全</span><span class="k">部</span><span class="k">完</span><span class="k">工</span><span class="k">、</span><span class="k">试</span><span class="k">验</span></div><div class="t" style="left:3px;top:16.5px;line-height:14.8px"><span class="k">、</span><span class="k">调</span><span class="k">试</span><span class="k">合</span><span class="k">格</span></div></div><div class="c" style="left:109px;top:1531.3px;width:186px;height:30px"><div class="t sf" style="left:17px;top:9.1px;line-height:14.8px"><span class="as">13. 2</span><span class="k">验</span><span class="k">收</span></div></div><div class="c" style="left:296px;top:1531.3px;width:94px;height:30px"><div class="t" style="left:3px;top:9.1px;line-height:14.8px"><span class="k">地</span><span class="k">方</span><span class="k">供</span><span class="k">电</span><span class="k">局</span></div></div><div class="c" style="left:451px;top:1531.3px;width:53px;height:30px"><div class="n" style="top:8px;line-height:16px">5</div></div><div class="c" style="left:506px;top:1531.3px;width:42px;height:30px"><div class="d" style="left:1px;top:3.4px;line-height:12.5px"><i class="h hx">X</i><i class="h hx">X</i><i class="h">+</i><i class="h">1</i><span class="kd">年</span><i class="h">1</i></div><div class="d" style="left:1px;top:15.9px;line-height:12.5px"><span class="kd">月</span></div></div><div class="c" style="left:549px;top:1531.3px;width:38px;height:30px"><div class="d" style="left:1px;top:3.4px;line-height:12.5px"><i class="h hx">X</i><i class="h hx">X</i><i class="h">+</i><i class="h">1</i><span class="kd">年</span></div><div class="d" style="left:1px;top:15.9px;line-height:12.5px"><i class="h">1</i><span class="kd">月</span></div></div><div class="c" style="left:1px;top:1561.3px;width:106px;height:22.7px"><div class="t" style="left:3px;top:1.3px;line-height:14.8px"><span class="k">全</span><span class="k">部</span><span class="k">完</span><span class="k">工</span><span class="k">、</span><span class="k">试</span><span class="k">验</span></div><div class="t" style="left:3px;top:16.1px;line-height:14.8px"><span class="k">、</span><span class="k">调</span><span class="k">试</span><span class="k">合</span><span class="k">格</span></div></div><div class="c" style="left:109px;top:1561.3px;width:186px;height:22.7px"><div class="t sf" style="left:17px;top:8.7px;line-height:14.8px"><span class="as">13. 3</span><span class="k">整</span><span class="k">改</span><span class="k">、</span><span class="k">复</span><span class="k">验</span><span class="k">收</span></div></div><div class="c" style="left:296px;top:1561.3px;width:94px;height:22.7px"><div class="t" style="left:20px;top:8.7px;line-height:14.8px"><span class="k">施</span><span class="k">工</span><span class="k">单</span><span class="k">位</span></div></div><div class="c" style="left:451px;top:1561.3px;width:53px;height:22.7px"><div class="n" style="top:7.6px;line-height:16px">10</div></div><div class="c" style="left:506px;top:1561.3px;width:42px;height:22.7px"><div class="d" style="left:1px;top:3px;line-height:12.5px"><i class="h hx">X</i><i class="h hx">X</i><i class="h">+</i><i class="h">1</i><span class="kd">年</span><i class="h">1</i></div><div class="d" style="left:1px;top:15.5px;line-height:12.5px"><span class="kd">月</span></div></div><div class="c" style="left:549px;top:1561.3px;width:38px;height:22.7px"><div class="d" style="left:1px;top:3px;line-height:12.5px"><i class="h hx">X</i><i class="h hx">X</i><i class="h">+</i><i class="h">1</i><span class="kd">年</span></div><div class="d" style="left:1px;top:15.5px;line-height:12.5px"><i class="h">1</i><span class="kd">月</span></div></div><div class="bar" style="left:1001.3px;top:10.6px;width:37.4px;height:14.6px"></div><div class="bar" style="left:887.5px;top:69.3px;width:38.1px;height:14.2px"></div><div class="bar" style="left:925.2px;top:108.4px;width:38.1px;height:13.8px"></div><div class="bar" style="left:962.5px;top:144.6px;width:16.7px;height:15.7px"></div><div class="bar" style="left:978.1px;top:186.8px;width:13.3px;height:13.4px"></div><div class="bar" style="left:985.3px;top:229.6px;width:15.3px;height:14.2px"></div><div class="bar" style="left:1036.4px;top:303.4px;width:18.1px;height:12.4px"></div><div class="bar" style="left:1036.4px;top:337px;width:10px;height:13.4px"></div><div class="bar" style="left:1044px;top:374.9px;width:7.5px;height:15.7px"></div><div class="bar" style="left:1051.1px;top:414px;width:7.5px;height:12.2px"></div><div class="bar" style="left:1059.2px;top:451.2px;width:19.8px;height:12.5px"></div><div class="bar" style="left:1054.5px;top:486.2px;width:7.9px;height:13.5px"></div><div class="bar" style="left:1056.2px;top:524px;width:6.9px;height:14.3px"></div><div class="bar" style="left:1060px;top:563.8px;width:7.2px;height:12.2px"></div><div class="bar" style="left:1061.7px;top:596.4px;width:7.1px;height:17.1px"></div><div class="bar" style="left:1064.7px;top:633px;width:7.2px;height:18.8px"></div><div class="bar" style="left:1059.2px;top:673.6px;width:16.1px;height:14.8px"></div><div class="bar" style="left:1059.2px;top:711.2px;width:16.1px;height:14.3px"></div><div class="bar" style="left:1036.4px;top:751.8px;width:15.5px;height:15.3px"></div><div class="bar" style="left:1038.4px;top:780.1px;width:10px;height:14.9px"></div><div class="bar" style="left:1048.4px;top:811.7px;width:6.6px;height:16.9px"></div><div class="bar" style="left:999.7px;top:840.2px;width:16.5px;height:14.5px"></div><div class="bar" style="left:999.1px;top:871.4px;width:10.6px;height:13.8px"></div><div class="bar" style="left:1005px;top:900.9px;width:12.9px;height:16.3px"></div><div class="bar" style="left:1010.7px;top:939px;width:11.3px;height:14.3px"></div><div class="bar" style="left:1020.3px;top:963.7px;width:18.3px;height:20.8px"></div><div class="bar" style="left:1023.6px;top:995.9px;width:8.1px;height:19.7px"></div><div class="bar" style="left:1026.6px;top:1027.5px;width:8.6px;height:19.3px"></div><div class="bar" style="left:1033.2px;top:1057.8px;width:5.4px;height:19.6px"></div><div class="bar" style="left:1068.2px;top:1093px;width:8.3px;height:19.4px"></div><div class="bar" style="left:886.5px;top:1156.6px;width:40.2px;height:19.5px"></div><div class="bar" style="left:924.2px;top:1189.2px;width:40.1px;height:19.2px"></div><div class="bar" style="left:961.9px;top:1221.4px;width:39.7px;height:20px"></div><div class="bar" style="left:999.5px;top:1250.3px;width:39.8px;height:19px"></div><div class="bar" style="left:1000.2px;top:1280.5px;width:40.5px;height:19.3px"></div><div class="bar" style="left:1000.2px;top:1311px;width:40.5px;height:18.8px"></div><div class="bar" style="left:1019.3px;top:1340.6px;width:39.7px;height:18.3px"></div><div class="bar" style="left:1036.8px;top:1371.5px;width:22.2px;height:19px"></div><div class="bar" style="left:1037.2px;top:1402.7px;width:23.5px;height:18.7px"></div><div class="bar" style="left:1037.2px;top:1435.7px;width:23.5px;height:19.1px"></div><div class="bar" style="left:1056.4px;top:1466.8px;width:21.3px;height:21.8px"></div><div class="bar" style="left:1054.1px;top:1504.2px;width:9.1px;height:16.8px"></div><div class="bar" style="left:1059.3px;top:1541.1px;width:8.7px;height:16px"></div><div class="bar" style="left:1064.2px;top:1568.1px;width:9.3px;height:15.9px"></div><div class="a" style="left:1079px;top:0;width:1px;height:1584px;background:#2a2a2a"></div></body></html>
